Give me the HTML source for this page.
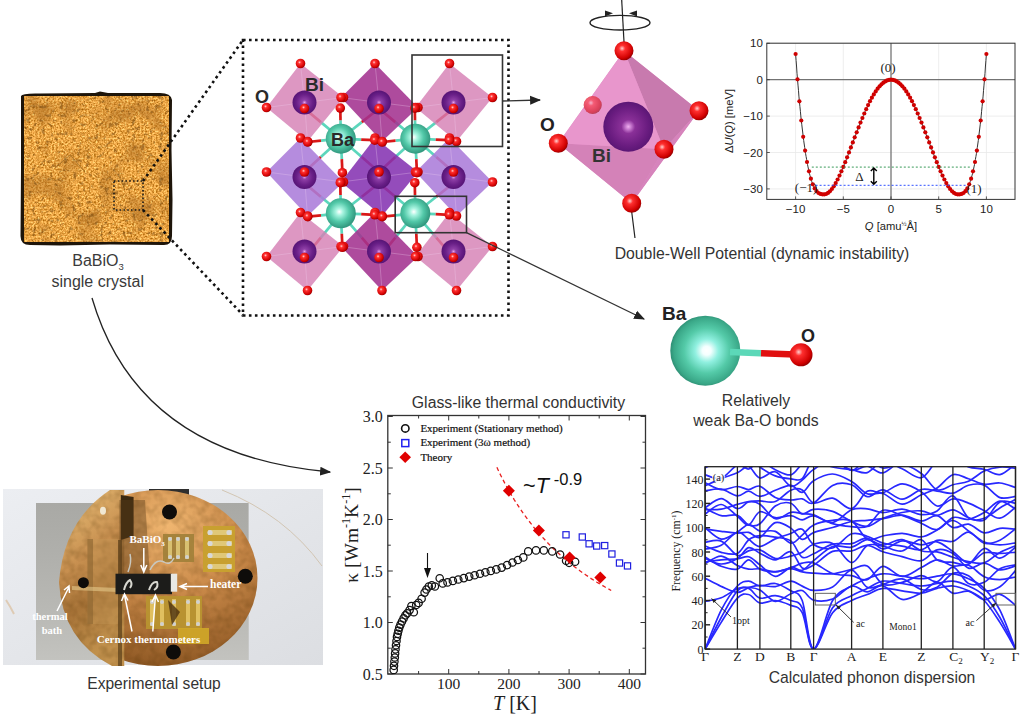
<!DOCTYPE html>
<html><head><meta charset="utf-8"><title>BaBiO3</title>
<style>html,body{margin:0;padding:0;background:#fff;} body{width:1024px;height:720px;overflow:hidden;} svg{display:block;}</style>
</head><body>
<svg width="1024" height="720" viewBox="0 0 1024 720">
<rect width="1024" height="720" fill="#fff"/>

<defs>
 <radialGradient id="gO" cx="0.4" cy="0.38" r="0.65">
  <stop offset="0" stop-color="#ffd0d0"/><stop offset="0.25" stop-color="#ff3030"/><stop offset="0.8" stop-color="#d00000"/><stop offset="1" stop-color="#900000"/>
 </radialGradient>
 <radialGradient id="gBa" cx="0.45" cy="0.45" r="0.6">
  <stop offset="0" stop-color="#ffffff"/><stop offset="0.2" stop-color="#a8f4e0"/><stop offset="0.55" stop-color="#52c8a8"/><stop offset="1" stop-color="#2a8c74"/>
 </radialGradient>
 <radialGradient id="gBa2" cx="0.52" cy="0.5" r="0.52">
  <stop offset="0" stop-color="#ffffff"/><stop offset="0.12" stop-color="#f4ffff"/><stop offset="0.32" stop-color="#90f0e0"/><stop offset="0.62" stop-color="#54caa8"/><stop offset="0.9" stop-color="#3aa888"/><stop offset="1" stop-color="#2e8e74"/>
 </radialGradient>
 <radialGradient id="gBi" cx="0.5" cy="0.5" r="0.55">
  <stop offset="0" stop-color="#e8a0e8"/><stop offset="0.18" stop-color="#9040a8"/><stop offset="0.6" stop-color="#6a2088"/><stop offset="1" stop-color="#501070"/>
 </radialGradient>
 <radialGradient id="gBi2" cx="0.5" cy="0.5" r="0.55">
  <stop offset="0" stop-color="#f0b0f0"/><stop offset="0.12" stop-color="#c070c8"/><stop offset="0.25" stop-color="#8a3098"/><stop offset="0.7" stop-color="#6a1c80"/><stop offset="1" stop-color="#541470"/>
 </radialGradient>
 <filter id="fCrys" x="0" y="0" width="1" height="1" color-interpolation-filters="sRGB">
  <feTurbulence type="fractalNoise" baseFrequency="0.22" numOctaves="3" seed="4" result="n"/>
  <feColorMatrix in="n" type="matrix" values="0 0 0 0 0.45  0 0 0 0 0.28  0 0 0 0 0.07  -6 0 0 0 2.5" result="d"/>
  <feComposite in="d" in2="SourceGraphic" operator="in"/>
 </filter>
 <filter id="fGrain" x="0" y="0" width="1" height="1" color-interpolation-filters="sRGB">
  <feTurbulence type="fractalNoise" baseFrequency="0.55" numOctaves="2" seed="5" result="n"/>
  <feColorMatrix in="n" type="matrix" values="1 0 0 0 0  1 0 0 0 0  1 0 0 0 0  0 0 0 0 1" result="g"/>
  <feComposite in="SourceGraphic" in2="g" operator="arithmetic" k1="0" k2="1" k3="0.75" k4="-0.375"/>
 </filter>
 <filter id="fCrys2" x="0" y="0" width="1" height="1" color-interpolation-filters="sRGB">
  <feTurbulence type="fractalNoise" baseFrequency="0.04" numOctaves="3" seed="9" result="n"/>
  <feColorMatrix in="n" type="matrix" values="0 0 0 0 0.7  0 0 0 0 0.45  0 0 0 0 0.15  -3 0 0 0 1.6" result="d"/>
  <feComposite in="d" in2="SourceGraphic" operator="in"/>
 </filter>
 <filter id="fPhoto" x="0" y="0" width="1" height="1" color-interpolation-filters="sRGB">
  <feTurbulence type="fractalNoise" baseFrequency="0.12" numOctaves="2" seed="7" result="n"/>
  <feColorMatrix in="n" type="matrix" values="0 0 0 0 0.3  0 0 0 0 0.18  0 0 0 0 0.02  -1.5 0 0 0 0.95" result="d"/>
  <feComposite in="d" in2="SourceGraphic" operator="in"/>
 </filter>
 <radialGradient id="gDisk" cx="0.55" cy="0.2" r="0.9">
  <stop offset="0" stop-color="#f0b670"/><stop offset="0.45" stop-color="#c88848"/><stop offset="1" stop-color="#824e1c"/>
 </radialGradient>
 <linearGradient id="gFlap" x1="0" y1="0" x2="0.3" y2="1">
  <stop offset="0" stop-color="#ecc47c"/><stop offset="0.45" stop-color="#c89050"/><stop offset="0.7" stop-color="#a87438"/><stop offset="1" stop-color="#c0904c"/>
 </linearGradient>
 <linearGradient id="gPlate" x1="0" y1="0" x2="0" y2="1">
  <stop offset="0" stop-color="#a0a09c" stop-opacity="0.5"/><stop offset="1" stop-color="#cacac6" stop-opacity="0.7"/>
 </linearGradient>
 <linearGradient id="gBg" x1="0" y1="0" x2="1" y2="1">
  <stop offset="0" stop-color="#eceef2"/><stop offset="1" stop-color="#dcdee2"/>
 </linearGradient>
 <marker id="ah" viewBox="0 0 10 10" refX="9" refY="5" markerWidth="11" markerHeight="11" markerUnits="userSpaceOnUse" orient="auto">
  <path d="M0,1 L10,5 L0,9 Z" fill="#222"/>
 </marker>
</defs>

<path d="M21,96 Q22,93 40,93.5 L95,93 L100,91.5 L108,93 L160,93 Q171,93 172,100 L171.5,150 L172.5,200 L172,236 Q172,245 164,245 L110,244.5 L60,245.5 L30,245 Q20.5,245 20.5,236 L21,170 Z" fill="#1e150a"/>
<rect x="24" y="96" width="145" height="146" fill="#eca646" filter="url(#fGrain)"/>
<rect x="24" y="96" width="145" height="146" fill="#e6ac4e" filter="url(#fCrys2)" opacity="0.6"/>
<rect x="24" y="96" width="145" height="146" fill="#e6ac4e" filter="url(#fCrys)" opacity="0.5"/>
<path d="M55,168 L70,155 L85,172 M118,174 L125,190" stroke="#6a4a1a" stroke-width="0.6" fill="none" opacity="0.7"/>
<rect x="114" y="181" width="29" height="29" fill="none" stroke="#1a1a1a" stroke-width="1.6" stroke-dasharray="1.6 2.2"/>
<path d="M143,181 L243,40" stroke="#111" stroke-width="2.6" stroke-dasharray="2.6 3.4" fill="none"/>
<path d="M143,210 L243,315" stroke="#111" stroke-width="2.6" stroke-dasharray="2.6 3.4" fill="none"/>
<rect x="243" y="40" width="265.5" height="275.5" stroke="#111" stroke-width="2.6" stroke-dasharray="2.6 3.4" fill="none"/>
<text x="98" y="265.8" font-family='"Liberation Sans", sans-serif' font-size="16" fill="#3a3a3a" text-anchor="middle">BaBiO<tspan font-size="9.5" dy="4">3</tspan></text>
<text x="97.7" y="286.6" font-family='"Liberation Sans", sans-serif' font-size="16" fill="#3a3a3a" text-anchor="middle">single crystal</text>
<path d="M92,298 Q138,455 330,472" stroke="#222" stroke-width="1.3" fill="none" marker-end="url(#ah)"/>
<line x1="340.8" y1="138.7" x2="320.8" y2="122.1" stroke="#5cd6bc" stroke-width="2.7"/>
<line x1="320.8" y1="122.1" x2="304.5" y2="108.5" stroke="#d81818" stroke-width="2.7"/>
<line x1="340.8" y1="138.7" x2="361.8" y2="122.1" stroke="#5cd6bc" stroke-width="2.7"/>
<line x1="361.8" y1="122.1" x2="379.0" y2="108.5" stroke="#d81818" stroke-width="2.7"/>
<line x1="340.8" y1="138.7" x2="320.8" y2="157.0" stroke="#5cd6bc" stroke-width="2.7"/>
<line x1="320.8" y1="157.0" x2="304.5" y2="172.0" stroke="#d81818" stroke-width="2.7"/>
<line x1="340.8" y1="138.7" x2="361.8" y2="157.0" stroke="#5cd6bc" stroke-width="2.7"/>
<line x1="361.8" y1="157.0" x2="379.0" y2="172.0" stroke="#d81818" stroke-width="2.7"/>
<line x1="415.3" y1="138.7" x2="395.3" y2="122.1" stroke="#5cd6bc" stroke-width="2.7"/>
<line x1="395.3" y1="122.1" x2="379.0" y2="108.5" stroke="#d81818" stroke-width="2.7"/>
<line x1="415.3" y1="138.7" x2="436.3" y2="122.1" stroke="#5cd6bc" stroke-width="2.7"/>
<line x1="436.3" y1="122.1" x2="453.5" y2="108.5" stroke="#d81818" stroke-width="2.7"/>
<line x1="415.3" y1="138.7" x2="395.3" y2="157.0" stroke="#5cd6bc" stroke-width="2.7"/>
<line x1="395.3" y1="157.0" x2="379.0" y2="172.0" stroke="#d81818" stroke-width="2.7"/>
<line x1="415.3" y1="138.7" x2="436.3" y2="157.0" stroke="#5cd6bc" stroke-width="2.7"/>
<line x1="436.3" y1="157.0" x2="453.5" y2="172.0" stroke="#d81818" stroke-width="2.7"/>
<line x1="340.8" y1="213.3" x2="320.8" y2="196.7" stroke="#5cd6bc" stroke-width="2.7"/>
<line x1="320.8" y1="196.7" x2="304.5" y2="183.1" stroke="#d81818" stroke-width="2.7"/>
<line x1="340.8" y1="213.3" x2="361.8" y2="196.7" stroke="#5cd6bc" stroke-width="2.7"/>
<line x1="361.8" y1="196.7" x2="379.0" y2="183.1" stroke="#d81818" stroke-width="2.7"/>
<line x1="340.8" y1="213.3" x2="320.8" y2="237.7" stroke="#5cd6bc" stroke-width="2.7"/>
<line x1="320.8" y1="237.7" x2="304.5" y2="257.6" stroke="#d81818" stroke-width="2.7"/>
<line x1="340.8" y1="213.3" x2="361.8" y2="237.7" stroke="#5cd6bc" stroke-width="2.7"/>
<line x1="361.8" y1="237.7" x2="379.0" y2="257.6" stroke="#d81818" stroke-width="2.7"/>
<line x1="415.3" y1="213.3" x2="395.3" y2="196.7" stroke="#5cd6bc" stroke-width="2.7"/>
<line x1="395.3" y1="196.7" x2="379.0" y2="183.1" stroke="#d81818" stroke-width="2.7"/>
<line x1="415.3" y1="213.3" x2="436.3" y2="196.7" stroke="#5cd6bc" stroke-width="2.7"/>
<line x1="436.3" y1="196.7" x2="453.5" y2="183.1" stroke="#d81818" stroke-width="2.7"/>
<line x1="415.3" y1="213.3" x2="395.3" y2="237.7" stroke="#5cd6bc" stroke-width="2.7"/>
<line x1="395.3" y1="237.7" x2="379.0" y2="257.6" stroke="#d81818" stroke-width="2.7"/>
<line x1="415.3" y1="213.3" x2="436.3" y2="237.7" stroke="#5cd6bc" stroke-width="2.7"/>
<line x1="436.3" y1="237.7" x2="453.5" y2="257.6" stroke="#d81818" stroke-width="2.7"/>
<path d="M300.5,63.5 L343.5,97.5 L307.5,141.5 L266.5,107.5 Z" fill="#d580b4" opacity="0.82"/>
<line x1="304.5" y1="102.5" x2="300.5" y2="63.5" stroke="#f0d0f0" stroke-width="0.6" opacity="0.5"/>
<line x1="304.5" y1="102.5" x2="343.5" y2="97.5" stroke="#f0d0f0" stroke-width="0.6" opacity="0.5"/>
<line x1="304.5" y1="102.5" x2="307.5" y2="141.5" stroke="#f0d0f0" stroke-width="0.6" opacity="0.5"/>
<line x1="304.5" y1="102.5" x2="266.5" y2="107.5" stroke="#f0d0f0" stroke-width="0.6" opacity="0.5"/>
<path d="M375.0,63.5 L418.0,107.5 L382.0,141.5 L341.0,97.5 Z" fill="#a33290" opacity="0.88"/>
<line x1="379" y1="102.5" x2="375.0" y2="63.5" stroke="#f0d0f0" stroke-width="0.6" opacity="0.5"/>
<line x1="379" y1="102.5" x2="418.0" y2="107.5" stroke="#f0d0f0" stroke-width="0.6" opacity="0.5"/>
<line x1="379" y1="102.5" x2="382.0" y2="141.5" stroke="#f0d0f0" stroke-width="0.6" opacity="0.5"/>
<line x1="379" y1="102.5" x2="341.0" y2="97.5" stroke="#f0d0f0" stroke-width="0.6" opacity="0.5"/>
<path d="M449.5,63.5 L492.5,97.5 L456.5,141.5 L415.5,107.5 Z" fill="#d580b4" opacity="0.82"/>
<line x1="453.5" y1="102.5" x2="449.5" y2="63.5" stroke="#f0d0f0" stroke-width="0.6" opacity="0.5"/>
<line x1="453.5" y1="102.5" x2="492.5" y2="97.5" stroke="#f0d0f0" stroke-width="0.6" opacity="0.5"/>
<line x1="453.5" y1="102.5" x2="456.5" y2="141.5" stroke="#f0d0f0" stroke-width="0.6" opacity="0.5"/>
<line x1="453.5" y1="102.5" x2="415.5" y2="107.5" stroke="#f0d0f0" stroke-width="0.6" opacity="0.5"/>
<path d="M300.5,138.0 L343.5,182.0 L307.5,216.0 L266.5,172.0 Z" fill="#ab7cd9" opacity="0.88"/>
<line x1="304.5" y1="177" x2="300.5" y2="138.0" stroke="#f0d0f0" stroke-width="0.6" opacity="0.5"/>
<line x1="304.5" y1="177" x2="343.5" y2="182.0" stroke="#f0d0f0" stroke-width="0.6" opacity="0.5"/>
<line x1="304.5" y1="177" x2="307.5" y2="216.0" stroke="#f0d0f0" stroke-width="0.6" opacity="0.5"/>
<line x1="304.5" y1="177" x2="266.5" y2="172.0" stroke="#f0d0f0" stroke-width="0.6" opacity="0.5"/>
<path d="M375.0,138.0 L418.0,172.0 L382.0,216.0 L341.0,182.0 Z" fill="#8533b2" opacity="0.88"/>
<line x1="379" y1="177" x2="375.0" y2="138.0" stroke="#f0d0f0" stroke-width="0.6" opacity="0.5"/>
<line x1="379" y1="177" x2="418.0" y2="172.0" stroke="#f0d0f0" stroke-width="0.6" opacity="0.5"/>
<line x1="379" y1="177" x2="382.0" y2="216.0" stroke="#f0d0f0" stroke-width="0.6" opacity="0.5"/>
<line x1="379" y1="177" x2="341.0" y2="182.0" stroke="#f0d0f0" stroke-width="0.6" opacity="0.5"/>
<path d="M449.5,138.0 L492.5,182.0 L456.5,216.0 L415.5,172.0 Z" fill="#ab7cd9" opacity="0.88"/>
<line x1="453.5" y1="177" x2="449.5" y2="138.0" stroke="#f0d0f0" stroke-width="0.6" opacity="0.5"/>
<line x1="453.5" y1="177" x2="492.5" y2="182.0" stroke="#f0d0f0" stroke-width="0.6" opacity="0.5"/>
<line x1="453.5" y1="177" x2="456.5" y2="216.0" stroke="#f0d0f0" stroke-width="0.6" opacity="0.5"/>
<line x1="453.5" y1="177" x2="415.5" y2="172.0" stroke="#f0d0f0" stroke-width="0.6" opacity="0.5"/>
<path d="M300.5,212.5 L343.5,246.5 L307.5,290.5 L266.5,256.5 Z" fill="#d580b4" opacity="0.82"/>
<line x1="304.5" y1="251.5" x2="300.5" y2="212.5" stroke="#f0d0f0" stroke-width="0.6" opacity="0.5"/>
<line x1="304.5" y1="251.5" x2="343.5" y2="246.5" stroke="#f0d0f0" stroke-width="0.6" opacity="0.5"/>
<line x1="304.5" y1="251.5" x2="307.5" y2="290.5" stroke="#f0d0f0" stroke-width="0.6" opacity="0.5"/>
<line x1="304.5" y1="251.5" x2="266.5" y2="256.5" stroke="#f0d0f0" stroke-width="0.6" opacity="0.5"/>
<path d="M375.0,212.5 L418.0,256.5 L382.0,290.5 L341.0,246.5 Z" fill="#a33290" opacity="0.88"/>
<line x1="379" y1="251.5" x2="375.0" y2="212.5" stroke="#f0d0f0" stroke-width="0.6" opacity="0.5"/>
<line x1="379" y1="251.5" x2="418.0" y2="256.5" stroke="#f0d0f0" stroke-width="0.6" opacity="0.5"/>
<line x1="379" y1="251.5" x2="382.0" y2="290.5" stroke="#f0d0f0" stroke-width="0.6" opacity="0.5"/>
<line x1="379" y1="251.5" x2="341.0" y2="246.5" stroke="#f0d0f0" stroke-width="0.6" opacity="0.5"/>
<path d="M449.5,212.5 L492.5,246.5 L456.5,290.5 L415.5,256.5 Z" fill="#d580b4" opacity="0.82"/>
<line x1="453.5" y1="251.5" x2="449.5" y2="212.5" stroke="#f0d0f0" stroke-width="0.6" opacity="0.5"/>
<line x1="453.5" y1="251.5" x2="492.5" y2="246.5" stroke="#f0d0f0" stroke-width="0.6" opacity="0.5"/>
<line x1="453.5" y1="251.5" x2="456.5" y2="290.5" stroke="#f0d0f0" stroke-width="0.6" opacity="0.5"/>
<line x1="453.5" y1="251.5" x2="415.5" y2="256.5" stroke="#f0d0f0" stroke-width="0.6" opacity="0.5"/>
<circle cx="304.5" cy="102.5" r="12" fill="url(#gBi)"/>
<circle cx="379" cy="102.5" r="12" fill="url(#gBi)"/>
<circle cx="453.5" cy="102.5" r="12" fill="url(#gBi)"/>
<circle cx="304.5" cy="177" r="12" fill="url(#gBi)"/>
<circle cx="379" cy="177" r="12" fill="url(#gBi)"/>
<circle cx="453.5" cy="177" r="12" fill="url(#gBi)"/>
<circle cx="304.5" cy="251.5" r="12" fill="url(#gBi)"/>
<circle cx="379" cy="251.5" r="12" fill="url(#gBi)"/>
<circle cx="453.5" cy="251.5" r="12" fill="url(#gBi)"/>
<line x1="340.8" y1="138.7" x2="340.5" y2="120.3" stroke="#5cd6bc" stroke-width="2.7"/>
<line x1="340.5" y1="120.3" x2="340.3" y2="108.1" stroke="#d81818" stroke-width="2.7"/>
<line x1="340.8" y1="138.7" x2="341.8" y2="159.1" stroke="#5cd6bc" stroke-width="2.7"/>
<line x1="341.8" y1="159.1" x2="342.4" y2="172.7" stroke="#d81818" stroke-width="2.7"/>
<line x1="340.8" y1="138.7" x2="321.0" y2="140.7" stroke="#5cd6bc" stroke-width="2.7"/>
<line x1="321.0" y1="140.7" x2="307.8" y2="142.0" stroke="#d81818" stroke-width="2.7"/>
<line x1="340.8" y1="138.7" x2="361.2" y2="139.6" stroke="#5cd6bc" stroke-width="2.7"/>
<line x1="361.2" y1="139.6" x2="374.8" y2="140.2" stroke="#d81818" stroke-width="2.7"/>
<line x1="415.3" y1="138.7" x2="415.0" y2="120.3" stroke="#5cd6bc" stroke-width="2.7"/>
<line x1="415.0" y1="120.3" x2="414.8" y2="108.1" stroke="#d81818" stroke-width="2.7"/>
<line x1="415.3" y1="138.7" x2="416.3" y2="159.1" stroke="#5cd6bc" stroke-width="2.7"/>
<line x1="416.3" y1="159.1" x2="416.9" y2="172.7" stroke="#d81818" stroke-width="2.7"/>
<line x1="415.3" y1="138.7" x2="395.5" y2="140.7" stroke="#5cd6bc" stroke-width="2.7"/>
<line x1="395.5" y1="140.7" x2="382.3" y2="142.0" stroke="#d81818" stroke-width="2.7"/>
<line x1="415.3" y1="138.7" x2="435.7" y2="139.6" stroke="#5cd6bc" stroke-width="2.7"/>
<line x1="435.7" y1="139.6" x2="449.3" y2="140.2" stroke="#d81818" stroke-width="2.7"/>
<line x1="340.8" y1="213.3" x2="340.5" y2="194.9" stroke="#5cd6bc" stroke-width="2.7"/>
<line x1="340.5" y1="194.9" x2="340.3" y2="182.7" stroke="#d81818" stroke-width="2.7"/>
<line x1="340.8" y1="213.3" x2="341.8" y2="233.7" stroke="#5cd6bc" stroke-width="2.7"/>
<line x1="341.8" y1="233.7" x2="342.4" y2="247.3" stroke="#d81818" stroke-width="2.7"/>
<line x1="340.8" y1="213.3" x2="321.0" y2="215.3" stroke="#5cd6bc" stroke-width="2.7"/>
<line x1="321.0" y1="215.3" x2="307.8" y2="216.6" stroke="#d81818" stroke-width="2.7"/>
<line x1="340.8" y1="213.3" x2="361.2" y2="214.2" stroke="#5cd6bc" stroke-width="2.7"/>
<line x1="361.2" y1="214.2" x2="374.8" y2="214.8" stroke="#d81818" stroke-width="2.7"/>
<line x1="415.3" y1="213.3" x2="415.0" y2="194.9" stroke="#5cd6bc" stroke-width="2.7"/>
<line x1="415.0" y1="194.9" x2="414.8" y2="182.7" stroke="#d81818" stroke-width="2.7"/>
<line x1="415.3" y1="213.3" x2="416.3" y2="233.7" stroke="#5cd6bc" stroke-width="2.7"/>
<line x1="416.3" y1="233.7" x2="416.9" y2="247.3" stroke="#d81818" stroke-width="2.7"/>
<line x1="415.3" y1="213.3" x2="395.5" y2="215.3" stroke="#5cd6bc" stroke-width="2.7"/>
<line x1="395.5" y1="215.3" x2="382.3" y2="216.6" stroke="#d81818" stroke-width="2.7"/>
<line x1="415.3" y1="213.3" x2="435.7" y2="214.2" stroke="#5cd6bc" stroke-width="2.7"/>
<line x1="435.7" y1="214.2" x2="449.3" y2="214.8" stroke="#d81818" stroke-width="2.7"/>
<circle cx="340.8" cy="138.7" r="15" fill="url(#gBa)"/>
<circle cx="415.3" cy="138.7" r="15" fill="url(#gBa)"/>
<circle cx="340.8" cy="213.3" r="15" fill="url(#gBa)"/>
<circle cx="415.3" cy="213.3" r="15" fill="url(#gBa)"/>
<circle cx="300.5" cy="63.5" r="4.8" fill="url(#gO)"/>
<circle cx="343.5" cy="97.5" r="4.8" fill="url(#gO)"/>
<circle cx="307.5" cy="141.5" r="4.8" fill="url(#gO)"/>
<circle cx="266.5" cy="107.5" r="4.8" fill="url(#gO)"/>
<circle cx="304.5" cy="108.5" r="4.8" fill="url(#gO)"/>
<circle cx="375.0" cy="63.5" r="4.8" fill="url(#gO)"/>
<circle cx="418.0" cy="107.5" r="4.8" fill="url(#gO)"/>
<circle cx="382.0" cy="141.5" r="4.8" fill="url(#gO)"/>
<circle cx="341.0" cy="97.5" r="4.8" fill="url(#gO)"/>
<circle cx="379.0" cy="108.5" r="4.8" fill="url(#gO)"/>
<circle cx="449.5" cy="63.5" r="4.8" fill="url(#gO)"/>
<circle cx="492.5" cy="97.5" r="4.8" fill="url(#gO)"/>
<circle cx="456.5" cy="141.5" r="4.8" fill="url(#gO)"/>
<circle cx="415.5" cy="107.5" r="4.8" fill="url(#gO)"/>
<circle cx="453.5" cy="108.5" r="4.8" fill="url(#gO)"/>
<circle cx="300.5" cy="138.0" r="4.8" fill="url(#gO)"/>
<circle cx="343.5" cy="182.0" r="4.8" fill="url(#gO)"/>
<circle cx="307.5" cy="216.0" r="4.8" fill="url(#gO)"/>
<circle cx="266.5" cy="172.0" r="4.8" fill="url(#gO)"/>
<circle cx="304.5" cy="172.0" r="4.8" fill="url(#gO)"/>
<circle cx="375.0" cy="138.0" r="4.8" fill="url(#gO)"/>
<circle cx="418.0" cy="172.0" r="4.8" fill="url(#gO)"/>
<circle cx="382.0" cy="216.0" r="4.8" fill="url(#gO)"/>
<circle cx="341.0" cy="182.0" r="4.8" fill="url(#gO)"/>
<circle cx="379.0" cy="172.0" r="4.8" fill="url(#gO)"/>
<circle cx="449.5" cy="138.0" r="4.8" fill="url(#gO)"/>
<circle cx="492.5" cy="182.0" r="4.8" fill="url(#gO)"/>
<circle cx="456.5" cy="216.0" r="4.8" fill="url(#gO)"/>
<circle cx="415.5" cy="172.0" r="4.8" fill="url(#gO)"/>
<circle cx="453.5" cy="172.0" r="4.8" fill="url(#gO)"/>
<circle cx="300.5" cy="212.5" r="4.8" fill="url(#gO)"/>
<circle cx="343.5" cy="246.5" r="4.8" fill="url(#gO)"/>
<circle cx="307.5" cy="290.5" r="4.8" fill="url(#gO)"/>
<circle cx="266.5" cy="256.5" r="4.8" fill="url(#gO)"/>
<circle cx="304.5" cy="257.5" r="4.8" fill="url(#gO)"/>
<circle cx="375.0" cy="212.5" r="4.8" fill="url(#gO)"/>
<circle cx="418.0" cy="256.5" r="4.8" fill="url(#gO)"/>
<circle cx="382.0" cy="290.5" r="4.8" fill="url(#gO)"/>
<circle cx="341.0" cy="246.5" r="4.8" fill="url(#gO)"/>
<circle cx="379.0" cy="257.5" r="4.8" fill="url(#gO)"/>
<circle cx="449.5" cy="212.5" r="4.8" fill="url(#gO)"/>
<circle cx="492.5" cy="246.5" r="4.8" fill="url(#gO)"/>
<circle cx="456.5" cy="290.5" r="4.8" fill="url(#gO)"/>
<circle cx="415.5" cy="256.5" r="4.8" fill="url(#gO)"/>
<circle cx="453.5" cy="257.5" r="4.8" fill="url(#gO)"/>
<circle cx="340.3" cy="108.1" r="4.8" fill="url(#gO)"/>
<circle cx="342.4" cy="172.7" r="4.8" fill="url(#gO)"/>
<circle cx="307.8" cy="142.0" r="4.8" fill="url(#gO)"/>
<circle cx="374.8" cy="140.2" r="4.8" fill="url(#gO)"/>
<circle cx="414.8" cy="108.1" r="4.8" fill="url(#gO)"/>
<circle cx="416.9" cy="172.7" r="4.8" fill="url(#gO)"/>
<circle cx="382.3" cy="142.0" r="4.8" fill="url(#gO)"/>
<circle cx="449.3" cy="140.2" r="4.8" fill="url(#gO)"/>
<circle cx="340.3" cy="182.7" r="4.8" fill="url(#gO)"/>
<circle cx="342.4" cy="247.3" r="4.8" fill="url(#gO)"/>
<circle cx="307.8" cy="216.6" r="4.8" fill="url(#gO)"/>
<circle cx="374.8" cy="214.8" r="4.8" fill="url(#gO)"/>
<circle cx="414.8" cy="182.7" r="4.8" fill="url(#gO)"/>
<circle cx="416.9" cy="247.3" r="4.8" fill="url(#gO)"/>
<circle cx="382.3" cy="216.6" r="4.8" fill="url(#gO)"/>
<circle cx="449.3" cy="214.8" r="4.8" fill="url(#gO)"/>
<text x="255" y="103" font-family='"Liberation Sans", sans-serif' font-size="18" font-weight="bold" fill="#2a2a2a">O</text>
<text x="305" y="91" font-family='"Liberation Sans", sans-serif' font-size="19" font-weight="bold" fill="#2a2a2a">Bi</text>
<text x="331" y="146" font-family='"Liberation Sans", sans-serif' font-size="18" font-weight="bold" fill="#2a2a2a">Ba</text>
<rect x="412" y="55" width="90.5" height="91.5" fill="none" stroke="#333" stroke-width="1.6"/>
<rect x="395.2" y="196.3" width="71.3" height="36.4" fill="none" stroke="#333" stroke-width="1.6"/>
<path d="M502.5,101 L540,100" stroke="#333" stroke-width="1.3" fill="none" marker-end="url(#ah)"/>
<path d="M466.5,232.7 L644,319" stroke="#333" stroke-width="1.3" fill="none" marker-end="url(#ah)"/>
<line x1="621.7" y1="0" x2="624" y2="42" stroke="#222" stroke-width="1.2"/>
<line x1="631.7" y1="212" x2="635" y2="238" stroke="#222" stroke-width="1.2"/>
<ellipse cx="620" cy="22.7" rx="30" ry="7.3" fill="none" stroke="#222" stroke-width="1.4"/>
<path d="M605,16.5 L613,13.2 L605,10.5 Z" fill="#222"/>
<path d="M637,16.5 L629,13.2 L637,10.5 Z" fill="#222"/>
<path d="M624,50.7 L699,110.7 L631.7,203.3 L558.3,143.3 Z" fill="#e08cc4"/>
<path d="M624,50.7 L699,110.7 L664,149.3 Z" fill="#c87aae"/>
<path d="M558.3,143.3 L631.7,203.3 L664,149.3 Z" fill="#d482b8"/>
<path d="M624,50.7 L558.3,143.3 L664,149.3 Z" fill="#e896cc"/>
<path d="M699,110.7 L631.7,203.3 L664,149.3 Z" fill="#d684bc"/>
<circle cx="592.7" cy="105" r="9" fill="url(#gO)" opacity="0.85"/>
<circle cx="592.7" cy="105" r="9" fill="#e890c8" opacity="0.35"/>
<circle cx="628.3" cy="126.7" r="25" fill="url(#gBi2)"/>
<circle cx="624" cy="50.7" r="9.5" fill="url(#gO)"/>
<circle cx="699" cy="110.7" r="9.5" fill="url(#gO)"/>
<circle cx="558.3" cy="143.3" r="9.5" fill="url(#gO)"/>
<circle cx="631.7" cy="203.3" r="9.5" fill="url(#gO)"/>
<circle cx="664" cy="149.3" r="9.5" fill="url(#gO)"/>
<text x="540" y="131" font-family='"Liberation Sans", sans-serif' font-size="19" font-weight="bold" fill="#222">O</text>
<text x="592" y="162" font-family='"Liberation Sans", sans-serif' font-size="19" font-weight="bold" fill="#333">Bi</text>
<text x="762" y="258.7" font-family='"Liberation Sans", sans-serif' font-size="15.8" fill="#333" text-anchor="middle">Double-Well Potential (dynamic instability)</text>
<line x1="795.6" y1="43.2" x2="795.6" y2="199.4" stroke="#e8e8e8" stroke-width="0.8"/>
<line x1="843.3" y1="43.2" x2="843.3" y2="199.4" stroke="#e8e8e8" stroke-width="0.8"/>
<line x1="891.0" y1="43.2" x2="891.0" y2="199.4" stroke="#e8e8e8" stroke-width="0.8"/>
<line x1="938.7" y1="43.2" x2="938.7" y2="199.4" stroke="#e8e8e8" stroke-width="0.8"/>
<line x1="986.4" y1="43.2" x2="986.4" y2="199.4" stroke="#e8e8e8" stroke-width="0.8"/>
<line x1="766.8" y1="43.3" x2="1015" y2="43.3" stroke="#e8e8e8" stroke-width="0.8"/>
<line x1="766.8" y1="79.7" x2="1015" y2="79.7" stroke="#e8e8e8" stroke-width="0.8"/>
<line x1="766.8" y1="116.1" x2="1015" y2="116.1" stroke="#e8e8e8" stroke-width="0.8"/>
<line x1="766.8" y1="152.5" x2="1015" y2="152.5" stroke="#e8e8e8" stroke-width="0.8"/>
<line x1="766.8" y1="188.9" x2="1015" y2="188.9" stroke="#e8e8e8" stroke-width="0.8"/>
<line x1="891.0" y1="43.2" x2="891.0" y2="199.4" stroke="#555" stroke-width="1"/>
<line x1="766.8" y1="79.7" x2="1015" y2="79.7" stroke="#555" stroke-width="1"/>
<rect x="766.8" y="43.2" width="248.20000000000005" height="156.2" fill="none" stroke="#333" stroke-width="1"/>
<line x1="795.6" y1="199.4" x2="795.6" y2="196.4" stroke="#333" stroke-width="0.8"/>
<text x="795.6" y="213.4" font-family='"Liberation Sans", sans-serif' font-size="11.5" fill="#222" text-anchor="middle">−10</text>
<line x1="843.3" y1="199.4" x2="843.3" y2="196.4" stroke="#333" stroke-width="0.8"/>
<text x="843.3" y="213.4" font-family='"Liberation Sans", sans-serif' font-size="11.5" fill="#222" text-anchor="middle">−5</text>
<line x1="891.0" y1="199.4" x2="891.0" y2="196.4" stroke="#333" stroke-width="0.8"/>
<text x="891.0" y="213.4" font-family='"Liberation Sans", sans-serif' font-size="11.5" fill="#222" text-anchor="middle">0</text>
<line x1="938.7" y1="199.4" x2="938.7" y2="196.4" stroke="#333" stroke-width="0.8"/>
<text x="938.7" y="213.4" font-family='"Liberation Sans", sans-serif' font-size="11.5" fill="#222" text-anchor="middle">5</text>
<line x1="986.4" y1="199.4" x2="986.4" y2="196.4" stroke="#333" stroke-width="0.8"/>
<text x="986.4" y="213.4" font-family='"Liberation Sans", sans-serif' font-size="11.5" fill="#222" text-anchor="middle">10</text>
<line x1="766.8" y1="43.3" x2="769.8" y2="43.3" stroke="#333" stroke-width="0.8"/>
<text x="762.8" y="47.3" font-family='"Liberation Sans", sans-serif' font-size="11.5" fill="#222" text-anchor="end">10</text>
<line x1="766.8" y1="79.7" x2="769.8" y2="79.7" stroke="#333" stroke-width="0.8"/>
<text x="762.8" y="83.7" font-family='"Liberation Sans", sans-serif' font-size="11.5" fill="#222" text-anchor="end">0</text>
<line x1="766.8" y1="116.1" x2="769.8" y2="116.1" stroke="#333" stroke-width="0.8"/>
<text x="762.8" y="120.1" font-family='"Liberation Sans", sans-serif' font-size="11.5" fill="#222" text-anchor="end">−10</text>
<line x1="766.8" y1="152.5" x2="769.8" y2="152.5" stroke="#333" stroke-width="0.8"/>
<text x="762.8" y="156.5" font-family='"Liberation Sans", sans-serif' font-size="11.5" fill="#222" text-anchor="end">−20</text>
<line x1="766.8" y1="188.9" x2="769.8" y2="188.9" stroke="#333" stroke-width="0.8"/>
<text x="762.8" y="192.9" font-family='"Liberation Sans", sans-serif' font-size="11.5" fill="#222" text-anchor="end">−30</text>
<path d="M795.6,54.0 L796.1,60.6 L796.6,67.0 L797.0,73.3 L797.5,79.3 L798.0,85.1 L798.5,90.7 L798.9,96.1 L799.4,101.3 L799.9,106.4 L800.4,111.3 L800.8,115.9 L801.3,120.5 L801.8,124.8 L802.3,129.0 L802.8,133.0 L803.2,136.8 L803.7,140.5 L804.2,144.0 L804.7,147.4 L805.1,150.6 L805.6,153.7 L806.1,156.6 L806.6,159.4 L807.0,162.0 L807.5,164.5 L808.0,166.9 L808.5,169.2 L809.0,171.3 L809.4,173.3 L809.9,175.2 L810.4,177.0 L810.9,178.7 L811.3,180.2 L811.8,181.7 L812.3,183.0 L812.8,184.3 L813.2,185.4 L813.7,186.5 L814.2,187.5 L814.7,188.4 L815.2,189.2 L815.6,190.0 L816.1,190.6 L816.6,191.2 L817.1,191.7 L817.5,192.2 L818.0,192.6 L818.5,193.0 L819.0,193.3 L819.5,193.5 L819.9,193.8 L820.4,193.9 L820.9,194.1 L821.4,194.2 L821.8,194.2 L822.3,194.3 L822.8,194.3 L823.3,194.4 L823.7,194.4 L824.2,194.4 L824.7,194.3 L825.2,194.3 L825.7,194.2 L826.1,194.0 L826.6,193.8 L827.1,193.6 L827.6,193.3 L828.0,192.9 L828.5,192.6 L829.0,192.2 L829.5,191.7 L829.9,191.3 L830.4,190.8 L830.9,190.2 L831.4,189.6 L831.9,189.0 L832.3,188.4 L832.8,187.7 L833.3,187.0 L833.8,186.3 L834.2,185.5 L834.7,184.7 L835.2,183.9 L835.7,183.1 L836.1,182.2 L836.6,181.3 L837.1,180.4 L837.6,179.5 L838.1,178.5 L838.5,177.6 L839.0,176.6 L839.5,175.6 L840.0,174.5 L840.4,173.5 L840.9,172.4 L841.4,171.3 L841.9,170.2 L842.3,169.1 L842.8,168.0 L843.3,166.9 L843.8,165.7 L844.3,164.5 L844.7,163.4 L845.2,162.2 L845.7,161.0 L846.2,159.8 L846.6,158.6 L847.1,157.3 L847.6,156.1 L848.1,154.9 L848.5,153.6 L849.0,152.4 L849.5,151.2 L850.0,149.9 L850.5,148.7 L850.9,147.4 L851.4,146.1 L851.9,144.9 L852.4,143.6 L852.8,142.4 L853.3,141.1 L853.8,139.8 L854.3,138.6 L854.7,137.3 L855.2,136.1 L855.7,134.8 L856.2,133.6 L856.7,132.3 L857.1,131.1 L857.6,129.9 L858.1,128.6 L858.6,127.4 L859.0,126.2 L859.5,125.0 L860.0,123.8 L860.5,122.6 L860.9,121.4 L861.4,120.3 L861.9,119.1 L862.4,118.0 L862.9,116.8 L863.3,115.7 L863.8,114.6 L864.3,113.5 L864.8,112.4 L865.2,111.3 L865.7,110.2 L866.2,109.2 L866.7,108.1 L867.1,107.1 L867.6,106.1 L868.1,105.1 L868.6,104.1 L869.1,103.1 L869.5,102.2 L870.0,101.2 L870.5,100.3 L871.0,99.4 L871.4,98.5 L871.9,97.7 L872.4,96.8 L872.9,96.0 L873.4,95.2 L873.8,94.4 L874.3,93.6 L874.8,92.8 L875.3,92.1 L875.7,91.4 L876.2,90.7 L876.7,90.0 L877.2,89.3 L877.6,88.7 L878.1,88.1 L878.6,87.5 L879.1,86.9 L879.6,86.3 L880.0,85.8 L880.5,85.3 L881.0,84.8 L881.5,84.3 L881.9,83.9 L882.4,83.5 L882.9,83.1 L883.4,82.7 L883.8,82.3 L884.3,82.0 L884.8,81.7 L885.3,81.4 L885.8,81.1 L886.2,80.9 L886.7,80.6 L887.2,80.4 L887.7,80.3 L888.1,80.1 L888.6,80.0 L889.1,79.9 L889.6,79.8 L890.0,79.7 L890.5,79.7 L891.0,79.7 L891.5,79.7 L892.0,79.7 L892.4,79.8 L892.9,79.9 L893.4,80.0 L893.9,80.1 L894.3,80.3 L894.8,80.4 L895.3,80.6 L895.8,80.9 L896.2,81.1 L896.7,81.4 L897.2,81.7 L897.7,82.0 L898.2,82.3 L898.6,82.7 L899.1,83.1 L899.6,83.5 L900.1,83.9 L900.5,84.3 L901.0,84.8 L901.5,85.3 L902.0,85.8 L902.4,86.3 L902.9,86.9 L903.4,87.5 L903.9,88.1 L904.4,88.7 L904.8,89.3 L905.3,90.0 L905.8,90.7 L906.3,91.4 L906.7,92.1 L907.2,92.8 L907.7,93.6 L908.2,94.4 L908.6,95.2 L909.1,96.0 L909.6,96.8 L910.1,97.7 L910.6,98.5 L911.0,99.4 L911.5,100.3 L912.0,101.2 L912.5,102.2 L912.9,103.1 L913.4,104.1 L913.9,105.1 L914.4,106.1 L914.9,107.1 L915.3,108.1 L915.8,109.2 L916.3,110.2 L916.8,111.3 L917.2,112.4 L917.7,113.5 L918.2,114.6 L918.7,115.7 L919.1,116.8 L919.6,118.0 L920.1,119.1 L920.6,120.3 L921.1,121.4 L921.5,122.6 L922.0,123.8 L922.5,125.0 L923.0,126.2 L923.4,127.4 L923.9,128.6 L924.4,129.9 L924.9,131.1 L925.3,132.3 L925.8,133.6 L926.3,134.8 L926.8,136.1 L927.3,137.3 L927.7,138.6 L928.2,139.8 L928.7,141.1 L929.2,142.4 L929.6,143.6 L930.1,144.9 L930.6,146.1 L931.1,147.4 L931.5,148.7 L932.0,149.9 L932.5,151.2 L933.0,152.4 L933.5,153.6 L933.9,154.9 L934.4,156.1 L934.9,157.3 L935.4,158.6 L935.8,159.8 L936.3,161.0 L936.8,162.2 L937.3,163.4 L937.7,164.5 L938.2,165.7 L938.7,166.9 L939.2,168.0 L939.7,169.1 L940.1,170.2 L940.6,171.3 L941.1,172.4 L941.6,173.5 L942.0,174.5 L942.5,175.6 L943.0,176.6 L943.5,177.6 L943.9,178.5 L944.4,179.5 L944.9,180.4 L945.4,181.3 L945.9,182.2 L946.3,183.1 L946.8,183.9 L947.3,184.7 L947.8,185.5 L948.2,186.3 L948.7,187.0 L949.2,187.7 L949.7,188.4 L950.1,189.0 L950.6,189.6 L951.1,190.2 L951.6,190.8 L952.1,191.3 L952.5,191.7 L953.0,192.2 L953.5,192.6 L954.0,192.9 L954.4,193.3 L954.9,193.6 L955.4,193.8 L955.9,194.0 L956.3,194.2 L956.8,194.3 L957.3,194.3 L957.8,194.4 L958.3,194.4 L958.7,194.4 L959.2,194.3 L959.7,194.3 L960.2,194.2 L960.6,194.2 L961.1,194.1 L961.6,193.9 L962.1,193.8 L962.5,193.5 L963.0,193.3 L963.5,193.0 L964.0,192.6 L964.5,192.2 L964.9,191.7 L965.4,191.2 L965.9,190.6 L966.4,190.0 L966.8,189.2 L967.3,188.4 L967.8,187.5 L968.3,186.5 L968.8,185.4 L969.2,184.3 L969.7,183.0 L970.2,181.7 L970.7,180.2 L971.1,178.7 L971.6,177.0 L972.1,175.2 L972.6,173.3 L973.0,171.3 L973.5,169.2 L974.0,166.9 L974.5,164.5 L975.0,162.0 L975.4,159.4 L975.9,156.6 L976.4,153.7 L976.9,150.6 L977.3,147.4 L977.8,144.0 L978.3,140.5 L978.8,136.8 L979.2,133.0 L979.7,129.0 L980.2,124.8 L980.7,120.5 L981.2,115.9 L981.6,111.3 L982.1,106.4 L982.6,101.3 L983.1,96.1 L983.5,90.7 L984.0,85.1 L984.5,79.3 L985.0,73.3 L985.4,67.0 L985.9,60.6 L986.4,54.0" stroke="#333" stroke-width="1" fill="none"/>
<circle cx="795.6" cy="54.0" r="2.1" fill="#d00000"/>
<circle cx="797.5" cy="79.3" r="2.1" fill="#d00000"/>
<circle cx="799.4" cy="101.3" r="2.1" fill="#d00000"/>
<circle cx="801.3" cy="120.5" r="2.1" fill="#d00000"/>
<circle cx="803.2" cy="136.8" r="2.1" fill="#d00000"/>
<circle cx="805.1" cy="150.6" r="2.1" fill="#d00000"/>
<circle cx="807.0" cy="162.0" r="2.1" fill="#d00000"/>
<circle cx="809.0" cy="171.3" r="2.1" fill="#d00000"/>
<circle cx="810.9" cy="178.7" r="2.1" fill="#d00000"/>
<circle cx="812.8" cy="184.3" r="2.1" fill="#d00000"/>
<circle cx="814.7" cy="188.4" r="2.1" fill="#d00000"/>
<circle cx="816.6" cy="191.2" r="2.1" fill="#d00000"/>
<circle cx="818.5" cy="193.0" r="2.1" fill="#d00000"/>
<circle cx="820.4" cy="193.9" r="2.1" fill="#d00000"/>
<circle cx="822.3" cy="194.3" r="2.1" fill="#d00000"/>
<circle cx="824.2" cy="194.4" r="2.1" fill="#d00000"/>
<circle cx="826.1" cy="194.0" r="2.1" fill="#d00000"/>
<circle cx="828.0" cy="192.9" r="2.1" fill="#d00000"/>
<circle cx="829.9" cy="191.3" r="2.1" fill="#d00000"/>
<circle cx="831.9" cy="189.0" r="2.1" fill="#d00000"/>
<circle cx="833.8" cy="186.3" r="2.1" fill="#d00000"/>
<circle cx="835.7" cy="183.1" r="2.1" fill="#d00000"/>
<circle cx="837.6" cy="179.5" r="2.1" fill="#d00000"/>
<circle cx="839.5" cy="175.6" r="2.1" fill="#d00000"/>
<circle cx="841.4" cy="171.3" r="2.1" fill="#d00000"/>
<circle cx="843.3" cy="166.9" r="2.1" fill="#d00000"/>
<circle cx="845.2" cy="162.2" r="2.1" fill="#d00000"/>
<circle cx="847.1" cy="157.3" r="2.1" fill="#d00000"/>
<circle cx="849.0" cy="152.4" r="2.1" fill="#d00000"/>
<circle cx="850.9" cy="147.4" r="2.1" fill="#d00000"/>
<circle cx="852.8" cy="142.4" r="2.1" fill="#d00000"/>
<circle cx="854.7" cy="137.3" r="2.1" fill="#d00000"/>
<circle cx="856.7" cy="132.3" r="2.1" fill="#d00000"/>
<circle cx="858.6" cy="127.4" r="2.1" fill="#d00000"/>
<circle cx="860.5" cy="122.6" r="2.1" fill="#d00000"/>
<circle cx="862.4" cy="118.0" r="2.1" fill="#d00000"/>
<circle cx="864.3" cy="113.5" r="2.1" fill="#d00000"/>
<circle cx="866.2" cy="109.2" r="2.1" fill="#d00000"/>
<circle cx="868.1" cy="105.1" r="2.1" fill="#d00000"/>
<circle cx="870.0" cy="101.2" r="2.1" fill="#d00000"/>
<circle cx="871.9" cy="97.7" r="2.1" fill="#d00000"/>
<circle cx="873.8" cy="94.4" r="2.1" fill="#d00000"/>
<circle cx="875.7" cy="91.4" r="2.1" fill="#d00000"/>
<circle cx="877.6" cy="88.7" r="2.1" fill="#d00000"/>
<circle cx="879.6" cy="86.3" r="2.1" fill="#d00000"/>
<circle cx="881.5" cy="84.3" r="2.1" fill="#d00000"/>
<circle cx="883.4" cy="82.7" r="2.1" fill="#d00000"/>
<circle cx="885.3" cy="81.4" r="2.1" fill="#d00000"/>
<circle cx="887.2" cy="80.4" r="2.1" fill="#d00000"/>
<circle cx="889.1" cy="79.9" r="2.1" fill="#d00000"/>
<circle cx="891.0" cy="79.7" r="2.1" fill="#d00000"/>
<circle cx="892.9" cy="79.9" r="2.1" fill="#d00000"/>
<circle cx="894.8" cy="80.4" r="2.1" fill="#d00000"/>
<circle cx="896.7" cy="81.4" r="2.1" fill="#d00000"/>
<circle cx="898.6" cy="82.7" r="2.1" fill="#d00000"/>
<circle cx="900.5" cy="84.3" r="2.1" fill="#d00000"/>
<circle cx="902.4" cy="86.3" r="2.1" fill="#d00000"/>
<circle cx="904.4" cy="88.7" r="2.1" fill="#d00000"/>
<circle cx="906.3" cy="91.4" r="2.1" fill="#d00000"/>
<circle cx="908.2" cy="94.4" r="2.1" fill="#d00000"/>
<circle cx="910.1" cy="97.7" r="2.1" fill="#d00000"/>
<circle cx="912.0" cy="101.2" r="2.1" fill="#d00000"/>
<circle cx="913.9" cy="105.1" r="2.1" fill="#d00000"/>
<circle cx="915.8" cy="109.2" r="2.1" fill="#d00000"/>
<circle cx="917.7" cy="113.5" r="2.1" fill="#d00000"/>
<circle cx="919.6" cy="118.0" r="2.1" fill="#d00000"/>
<circle cx="921.5" cy="122.6" r="2.1" fill="#d00000"/>
<circle cx="923.4" cy="127.4" r="2.1" fill="#d00000"/>
<circle cx="925.3" cy="132.3" r="2.1" fill="#d00000"/>
<circle cx="927.3" cy="137.3" r="2.1" fill="#d00000"/>
<circle cx="929.2" cy="142.4" r="2.1" fill="#d00000"/>
<circle cx="931.1" cy="147.4" r="2.1" fill="#d00000"/>
<circle cx="933.0" cy="152.4" r="2.1" fill="#d00000"/>
<circle cx="934.9" cy="157.3" r="2.1" fill="#d00000"/>
<circle cx="936.8" cy="162.2" r="2.1" fill="#d00000"/>
<circle cx="938.7" cy="166.9" r="2.1" fill="#d00000"/>
<circle cx="940.6" cy="171.3" r="2.1" fill="#d00000"/>
<circle cx="942.5" cy="175.6" r="2.1" fill="#d00000"/>
<circle cx="944.4" cy="179.5" r="2.1" fill="#d00000"/>
<circle cx="946.3" cy="183.1" r="2.1" fill="#d00000"/>
<circle cx="948.2" cy="186.3" r="2.1" fill="#d00000"/>
<circle cx="950.1" cy="189.0" r="2.1" fill="#d00000"/>
<circle cx="952.1" cy="191.3" r="2.1" fill="#d00000"/>
<circle cx="954.0" cy="192.9" r="2.1" fill="#d00000"/>
<circle cx="955.9" cy="194.0" r="2.1" fill="#d00000"/>
<circle cx="957.8" cy="194.4" r="2.1" fill="#d00000"/>
<circle cx="959.7" cy="194.3" r="2.1" fill="#d00000"/>
<circle cx="961.6" cy="193.9" r="2.1" fill="#d00000"/>
<circle cx="963.5" cy="193.0" r="2.1" fill="#d00000"/>
<circle cx="965.4" cy="191.2" r="2.1" fill="#d00000"/>
<circle cx="967.3" cy="188.4" r="2.1" fill="#d00000"/>
<circle cx="969.2" cy="184.3" r="2.1" fill="#d00000"/>
<circle cx="971.1" cy="178.7" r="2.1" fill="#d00000"/>
<circle cx="973.0" cy="171.3" r="2.1" fill="#d00000"/>
<circle cx="975.0" cy="162.0" r="2.1" fill="#d00000"/>
<circle cx="976.9" cy="150.6" r="2.1" fill="#d00000"/>
<circle cx="978.8" cy="136.8" r="2.1" fill="#d00000"/>
<circle cx="980.7" cy="120.5" r="2.1" fill="#d00000"/>
<circle cx="982.6" cy="101.3" r="2.1" fill="#d00000"/>
<circle cx="984.5" cy="79.3" r="2.1" fill="#d00000"/>
<circle cx="986.4" cy="54.0" r="2.1" fill="#d00000"/>
<line x1="811.8" y1="167.1" x2="970.2" y2="167.1" stroke="#3a9a5a" stroke-width="1" stroke-dasharray="2 2"/>
<line x1="815.6" y1="185.3" x2="966.4" y2="185.3" stroke="#3050ff" stroke-width="1" stroke-dasharray="2 2"/>
<path d="M873.8,168.1 L873.8,184.3 M870.8,171.1 L873.8,168.1 L876.8,171.1 M870.8,181.3 L873.8,184.3 L876.8,181.3" stroke="#000" stroke-width="1.4" fill="none"/>
<text x="859.5" y="180.9" font-family='"Liberation Serif", serif' font-size="13" fill="#222" text-anchor="middle">Δ</text>
<text x="888.0" y="71.7" font-family='"Liberation Serif", serif' font-size="13" fill="#222" text-anchor="middle">(0)</text>
<text x="806.1" y="191.5" font-family='"Liberation Serif", serif' font-size="13" fill="#222" text-anchor="middle">(−1)</text>
<text x="974.0" y="192.9" font-family='"Liberation Serif", serif' font-size="13" fill="#222" text-anchor="middle">(1)</text>
<text x="891" y="230" font-family='"Liberation Sans", sans-serif' font-size="11.2" fill="#222" text-anchor="middle"><tspan font-style="italic">Q</tspan> [amu<tspan font-size="6" dy="-4">½</tspan><tspan dy="4">Å]</tspan></text>
<text transform="translate(733,121) rotate(-90)" font-family='"Liberation Sans", sans-serif' font-size="11.2" fill="#222" text-anchor="middle">Δ<tspan font-style="italic">U</tspan>(<tspan font-style="italic">Q</tspan>) [meV]</text>
<circle cx="705.3" cy="350.7" r="35" fill="url(#gBa2)"/>
<line x1="730" y1="352" x2="761" y2="353.2" stroke="#5cd8b8" stroke-width="6.5"/>
<line x1="761" y1="353.2" x2="795" y2="354.5" stroke="#e01010" stroke-width="6.5"/>
<circle cx="801" cy="354.8" r="11.5" fill="url(#gO)"/>
<text x="662" y="319.5" font-family='"Liberation Sans", sans-serif' font-size="19" font-weight="bold" fill="#222">Ba</text>
<text x="801" y="342" font-family='"Liberation Sans", sans-serif' font-size="18" font-weight="bold" fill="#222">O</text>
<text x="756" y="405.5" font-family='"Liberation Sans", sans-serif' font-size="15.8" fill="#333" text-anchor="middle">Relatively</text>
<text x="756" y="426" font-family='"Liberation Sans", sans-serif' font-size="15.8" fill="#333" text-anchor="middle">weak Ba-O bonds</text>
<rect x="3" y="489" width="320" height="176" fill="url(#gBg)"/>
<rect x="36" y="503" width="212.5" height="157" fill="#b2b2ae"/>
<rect x="36" y="503" width="212.5" height="157" fill="url(#gPlate)"/>
<path d="M222,490 Q285,515 322,566" stroke="#cdbda5" stroke-width="0.8" fill="none"/>
<path d="M6,600 q4,6 8,14" stroke="#d8b890" stroke-width="2" fill="none" opacity="0.6"/>
<rect x="149" y="489" width="40" height="11" fill="#2e2e2e"/>
<defs><clipPath id="cpDisk"><rect x="119.4" y="480" width="150" height="186"/></clipPath><clipPath id="cpFlap"><rect x="40" y="489" width="84.5" height="177"/></clipPath></defs>
<g clip-path="url(#cpDisk)"><ellipse cx="158" cy="578" rx="99.5" ry="88" fill="url(#gDisk)"/><ellipse cx="158" cy="578" rx="99.5" ry="88" fill="#b88040" filter="url(#fPhoto)" opacity="0.3"/></g>
<g clip-path="url(#cpFlap)"><path d="M124.5,490 L110,490 Q64,520 59,582 Q62,640 112,666 L124.5,666 Z" fill="url(#gFlap)"/><path d="M124.5,490 L110,490 Q64,520 59,582 Q62,640 112,666 L124.5,666 Z" fill="#b88848" filter="url(#fPhoto)" opacity="0.3"/></g>
<path d="M87.4,539 L118,539 L118,624 L87.4,624 Z" fill="#c89a58" opacity="0.35"/>
<path d="M87.4,539 L93,539 L93,624 L87.4,624 Z" fill="#8a6430" opacity="0.6"/>
<path d="M72,586 L118,588 L118,592 L72,590 Z" fill="#f0d898" opacity="0.5"/>
<ellipse cx="103" cy="510.7" rx="3" ry="4" fill="#f4f0e0" opacity="0.9"/>
<path d="M120.8,495 L133.6,497 L133.6,536 L120.8,540 Z" fill="#3a2810"/>
<rect x="118" y="540" width="4" height="126" fill="#5a3e1a" opacity="0.7"/>
<path d="M119.4,500 L145,500 L150,577 L119.4,577 Z" fill="#5a3c18" opacity="0.4"/>
<rect x="203" y="526" width="32" height="46" fill="#c8a030"/>
<rect x="208" y="530" width="24" height="5" fill="#e0c878"/>
<circle cx="210" cy="532.5" r="2.6" fill="#d8d8d8"/><circle cx="229" cy="532.5" r="2.6" fill="#d8d8d8"/>
<rect x="208" y="541" width="24" height="5" fill="#e0c878"/>
<circle cx="210" cy="543.5" r="2.6" fill="#d8d8d8"/><circle cx="229" cy="543.5" r="2.6" fill="#d8d8d8"/>
<rect x="208" y="553" width="24" height="5" fill="#e0c878"/>
<circle cx="210" cy="555.5" r="2.6" fill="#d8d8d8"/><circle cx="229" cy="555.5" r="2.6" fill="#d8d8d8"/>
<rect x="208" y="564" width="24" height="5" fill="#e0c878"/>
<circle cx="210" cy="566.5" r="2.6" fill="#d8d8d8"/><circle cx="229" cy="566.5" r="2.6" fill="#d8d8d8"/>
<rect x="163" y="534" width="31" height="28" fill="#a08038" opacity="0.9"/>
<rect x="168" y="537" width="4" height="22" fill="#d8c070"/>
<circle cx="170" cy="539" r="2" fill="#d0d0d0"/><circle cx="170" cy="557" r="2" fill="#d0d0d0"/>
<rect x="176" y="537" width="4" height="22" fill="#d8c070"/>
<circle cx="178" cy="539" r="2" fill="#d0d0d0"/><circle cx="178" cy="557" r="2" fill="#d0d0d0"/>
<rect x="185" y="537" width="4" height="22" fill="#d8c070"/>
<circle cx="187" cy="539" r="2" fill="#d0d0d0"/><circle cx="187" cy="557" r="2" fill="#d0d0d0"/>
<rect x="146" y="596" width="56" height="33" fill="#b89430" opacity="0.95"/>
<rect x="178" y="628" width="31" height="16" fill="#d0a828" opacity="0.9"/>
<rect x="150" y="599" width="4" height="27" fill="#e0c060"/>
<circle cx="152" cy="602" r="2" fill="#d0d0d0"/><circle cx="152" cy="624" r="2" fill="#d0d0d0"/>
<rect x="160" y="599" width="4" height="27" fill="#e0c060"/>
<circle cx="162" cy="602" r="2" fill="#d0d0d0"/><circle cx="162" cy="624" r="2" fill="#d0d0d0"/>
<rect x="172" y="599" width="4" height="27" fill="#e0c060"/>
<circle cx="174" cy="602" r="2" fill="#d0d0d0"/><circle cx="174" cy="624" r="2" fill="#d0d0d0"/>
<rect x="186" y="599" width="4" height="27" fill="#e0c060"/>
<circle cx="188" cy="602" r="2" fill="#d0d0d0"/><circle cx="188" cy="624" r="2" fill="#d0d0d0"/>
<rect x="196" y="599" width="4" height="27" fill="#e0c060"/>
<circle cx="198" cy="602" r="2" fill="#d0d0d0"/><circle cx="198" cy="624" r="2" fill="#d0d0d0"/>
<path d="M168,600 L180,612 L172,625 Z" fill="#4a3010" opacity="0.8"/>
<rect x="115.5" y="573.7" width="56.5" height="20.5" fill="#1c1c1a"/>
<rect x="170.8" y="573.7" width="6.4" height="18" fill="#e8e8e4"/>
<path d="M124,590 q2,-8 6,-10 q3,4 0,8 M149,590 q3,-9 8,-8 q2,5 -3,8" stroke="#d8d8d0" stroke-width="2" fill="none"/>
<path d="M150,570 q6,-12 14,-8 q6,4 10,-4 M128,572 q4,-10 2,-18" stroke="#c8c8c0" stroke-width="1.5" fill="none"/>
<circle cx="169.5" cy="512" r="7.5" fill="#0e0c0a"/>
<circle cx="245.3" cy="576.2" r="7.5" fill="#0e0c0a"/>
<circle cx="83.4" cy="582.7" r="5.5" fill="#0e0c0a"/>
<circle cx="173.4" cy="652" r="7.5" fill="#0e0c0a"/>
<text x="129.5" y="543" font-family='"Liberation Serif", serif' font-size="11" fill="#fff" font-weight="bold">BaBiO<tspan font-size="7" dy="3">3</tspan></text>
<text x="210" y="588" font-family='"Liberation Serif", serif' font-size="11.5" fill="#fff" font-weight="bold">heater</text>
<text x="50" y="619.5" font-family='"Liberation Serif", serif' font-size="10.5" fill="#fff" font-weight="bold" text-anchor="middle">thermal</text>
<text x="52" y="633.5" font-family='"Liberation Serif", serif' font-size="10.5" fill="#fff" font-weight="bold" text-anchor="middle">bath</text>
<text x="148.5" y="643" font-family='"Liberation Serif", serif' font-size="11" fill="#fff" font-weight="bold" text-anchor="middle">Cernox thermometers</text>
<path d="M143.8,548 L143.8,571 M140.8,565 L143.8,572 L146.8,565" stroke="#fff" stroke-width="1.5" fill="none"/>
<path d="M208,586.5 L181,586.5 M187,583.5 L180,586.5 L187,589.5" stroke="#fff" stroke-width="1.5" fill="none"/>
<path d="M57,611 L69,587 M64,590 L69,586 L69.5,593" stroke="#fff" stroke-width="1.5" fill="none"/>
<path d="M132,631.5 L124.5,595 M121.5,601 L124.5,594 L128,600.5" stroke="#fff" stroke-width="1.5" fill="none"/>
<path d="M152.8,631.5 L155.4,596 M152,602 L155.4,595 L158.5,602" stroke="#fff" stroke-width="1.5" fill="none"/>
<text x="154" y="689" font-family='"Liberation Sans", sans-serif' font-size="15.6" fill="#333" text-anchor="middle">Experimental setup</text>
<text x="518.5" y="408" font-family='"Liberation Sans", sans-serif' font-size="15.8" fill="#333" text-anchor="middle">Glass-like thermal conductivity</text>
<rect x="387.8" y="415.5" width="257.7" height="258.5" fill="none" stroke="#333" stroke-width="1.3"/>
<line x1="387.8" y1="674.0" x2="392.8" y2="674.0" stroke="#333" stroke-width="1"/>
<line x1="645.5" y1="674.0" x2="640.5" y2="674.0" stroke="#333" stroke-width="1"/>
<line x1="387.8" y1="648.2" x2="390.8" y2="648.2" stroke="#333" stroke-width="1"/>
<line x1="645.5" y1="648.2" x2="642.5" y2="648.2" stroke="#333" stroke-width="1"/>
<line x1="387.8" y1="622.5" x2="392.8" y2="622.5" stroke="#333" stroke-width="1"/>
<line x1="645.5" y1="622.5" x2="640.5" y2="622.5" stroke="#333" stroke-width="1"/>
<line x1="387.8" y1="596.8" x2="390.8" y2="596.8" stroke="#333" stroke-width="1"/>
<line x1="645.5" y1="596.8" x2="642.5" y2="596.8" stroke="#333" stroke-width="1"/>
<line x1="387.8" y1="571.0" x2="392.8" y2="571.0" stroke="#333" stroke-width="1"/>
<line x1="645.5" y1="571.0" x2="640.5" y2="571.0" stroke="#333" stroke-width="1"/>
<line x1="387.8" y1="545.2" x2="390.8" y2="545.2" stroke="#333" stroke-width="1"/>
<line x1="645.5" y1="545.2" x2="642.5" y2="545.2" stroke="#333" stroke-width="1"/>
<line x1="387.8" y1="519.5" x2="392.8" y2="519.5" stroke="#333" stroke-width="1"/>
<line x1="645.5" y1="519.5" x2="640.5" y2="519.5" stroke="#333" stroke-width="1"/>
<line x1="387.8" y1="493.8" x2="390.8" y2="493.8" stroke="#333" stroke-width="1"/>
<line x1="645.5" y1="493.8" x2="642.5" y2="493.8" stroke="#333" stroke-width="1"/>
<line x1="387.8" y1="468.0" x2="392.8" y2="468.0" stroke="#333" stroke-width="1"/>
<line x1="645.5" y1="468.0" x2="640.5" y2="468.0" stroke="#333" stroke-width="1"/>
<line x1="387.8" y1="442.2" x2="390.8" y2="442.2" stroke="#333" stroke-width="1"/>
<line x1="645.5" y1="442.2" x2="642.5" y2="442.2" stroke="#333" stroke-width="1"/>
<line x1="387.8" y1="416.5" x2="392.8" y2="416.5" stroke="#333" stroke-width="1"/>
<line x1="645.5" y1="416.5" x2="640.5" y2="416.5" stroke="#333" stroke-width="1"/>
<text x="382.8" y="679.5" font-family='"Liberation Serif", serif' font-size="16" fill="#222" text-anchor="end">0.5</text>
<text x="382.8" y="628.0" font-family='"Liberation Serif", serif' font-size="16" fill="#222" text-anchor="end">1.0</text>
<text x="382.8" y="576.5" font-family='"Liberation Serif", serif' font-size="16" fill="#222" text-anchor="end">1.5</text>
<text x="382.8" y="525.0" font-family='"Liberation Serif", serif' font-size="16" fill="#222" text-anchor="end">2.0</text>
<text x="382.8" y="473.5" font-family='"Liberation Serif", serif' font-size="16" fill="#222" text-anchor="end">2.5</text>
<text x="382.8" y="422.0" font-family='"Liberation Serif", serif' font-size="16" fill="#222" text-anchor="end">3.0</text>
<line x1="418.6" y1="674" x2="418.6" y2="671" stroke="#333" stroke-width="1"/>
<line x1="418.6" y1="415.5" x2="418.6" y2="418.5" stroke="#333" stroke-width="1"/>
<line x1="448.7" y1="674" x2="448.7" y2="669" stroke="#333" stroke-width="1"/>
<line x1="448.7" y1="415.5" x2="448.7" y2="420.5" stroke="#333" stroke-width="1"/>
<line x1="478.8" y1="674" x2="478.8" y2="671" stroke="#333" stroke-width="1"/>
<line x1="478.8" y1="415.5" x2="478.8" y2="418.5" stroke="#333" stroke-width="1"/>
<line x1="508.9" y1="674" x2="508.9" y2="669" stroke="#333" stroke-width="1"/>
<line x1="508.9" y1="415.5" x2="508.9" y2="420.5" stroke="#333" stroke-width="1"/>
<line x1="539.0" y1="674" x2="539.0" y2="671" stroke="#333" stroke-width="1"/>
<line x1="539.0" y1="415.5" x2="539.0" y2="418.5" stroke="#333" stroke-width="1"/>
<line x1="569.1" y1="674" x2="569.1" y2="669" stroke="#333" stroke-width="1"/>
<line x1="569.1" y1="415.5" x2="569.1" y2="420.5" stroke="#333" stroke-width="1"/>
<line x1="599.2" y1="674" x2="599.2" y2="671" stroke="#333" stroke-width="1"/>
<line x1="599.2" y1="415.5" x2="599.2" y2="418.5" stroke="#333" stroke-width="1"/>
<line x1="629.3" y1="674" x2="629.3" y2="669" stroke="#333" stroke-width="1"/>
<line x1="629.3" y1="415.5" x2="629.3" y2="420.5" stroke="#333" stroke-width="1"/>
<text x="448.7" y="689" font-family='"Liberation Serif", serif' font-size="15.5" fill="#222" text-anchor="middle">100</text>
<text x="508.9" y="689" font-family='"Liberation Serif", serif' font-size="15.5" fill="#222" text-anchor="middle">200</text>
<text x="569.1" y="689" font-family='"Liberation Serif", serif' font-size="15.5" fill="#222" text-anchor="middle">300</text>
<text x="629.3" y="689" font-family='"Liberation Serif", serif' font-size="15.5" fill="#222" text-anchor="middle">400</text>
<text x="515" y="710" font-family='"Liberation Serif", serif' font-size="20" fill="#222" text-anchor="middle"><tspan font-style="italic">T</tspan> [K]</text>
<text transform="translate(357.5,535) rotate(-90)" font-family='"Liberation Serif", serif' font-size="19.5" fill="#222" text-anchor="middle">κ [Wm<tspan font-size="12" dy="-8">-1</tspan><tspan dy="8">K</tspan><tspan font-size="12" dy="-8">-1</tspan><tspan dy="8">]</tspan></text>
<circle cx="405.3" cy="428.4" r="3.7" fill="none" stroke="#111" stroke-width="1.6"/>
<rect x="401.8" y="439.6" width="7" height="7" fill="none" stroke="#2020f0" stroke-width="1.5"/>
<path d="M405.2,451.5 L411,457.3 L405.2,463.1 L399.4,457.3 Z" fill="#e00000"/>
<text x="420.4" y="431.8" font-family='"Liberation Serif", serif' font-size="11" fill="#111" stroke="#111" stroke-width="0.2">Experiment (Stationary method)</text>
<text x="420.4" y="446.3" font-family='"Liberation Serif", serif' font-size="11" fill="#111" stroke="#111" stroke-width="0.2">Experiment (3ω method)</text>
<text x="420.4" y="460.7" font-family='"Liberation Serif", serif' font-size="11" fill="#111" stroke="#111" stroke-width="0.2">Theory</text>
<path d="M496.9,467.3 L499.7,473.3 L502.6,479.0 L505.4,484.4 L508.3,489.6 L511.2,494.6 L514.0,499.3 L516.9,503.8 L519.7,508.2 L522.6,512.4 L525.5,516.4 L528.3,520.2 L531.2,523.9 L534.0,527.5 L536.9,530.9 L539.8,534.2 L542.6,537.4 L545.5,540.5 L548.3,543.5 L551.2,546.4 L554.0,549.2 L556.9,551.9 L559.8,554.5 L562.6,557.0 L565.5,559.5 L568.3,561.8 L571.2,564.2 L574.1,566.4 L576.9,568.6 L579.8,570.7 L582.6,572.7 L585.5,574.7 L588.4,576.7 L591.2,578.6 L594.1,580.4 L596.9,582.2 L599.8,583.9 L602.7,585.6 L605.5,587.3 L608.4,588.9 L611.2,590.5" stroke="#e82020" stroke-width="1.3" fill="none" stroke-dasharray="4 3"/>
<text x="523" y="492.5" font-family='"Liberation Sans", sans-serif' font-size="21.6" fill="#111">~<tspan font-style="italic">T</tspan><tspan font-size="16.5" dy="-8" dx="5">-0.9</tspan></text>
<circle cx="393.7" cy="669.9" r="3.7" fill="none" stroke="#111" stroke-width="1.25"/>
<circle cx="394.0" cy="665.8" r="3.7" fill="none" stroke="#111" stroke-width="1.25"/>
<circle cx="394.4" cy="661.6" r="3.7" fill="none" stroke="#111" stroke-width="1.25"/>
<circle cx="394.8" cy="657.5" r="3.7" fill="none" stroke="#111" stroke-width="1.25"/>
<circle cx="395.1" cy="653.4" r="3.7" fill="none" stroke="#111" stroke-width="1.25"/>
<circle cx="395.5" cy="649.3" r="3.7" fill="none" stroke="#111" stroke-width="1.25"/>
<circle cx="396.0" cy="645.2" r="3.7" fill="none" stroke="#111" stroke-width="1.25"/>
<circle cx="396.5" cy="641.0" r="3.7" fill="none" stroke="#111" stroke-width="1.25"/>
<circle cx="397.0" cy="636.9" r="3.7" fill="none" stroke="#111" stroke-width="1.25"/>
<circle cx="397.7" cy="633.8" r="3.7" fill="none" stroke="#111" stroke-width="1.25"/>
<circle cx="398.4" cy="630.7" r="3.7" fill="none" stroke="#111" stroke-width="1.25"/>
<circle cx="399.3" cy="627.6" r="3.7" fill="none" stroke="#111" stroke-width="1.25"/>
<circle cx="400.5" cy="624.6" r="3.7" fill="none" stroke="#111" stroke-width="1.25"/>
<circle cx="402.0" cy="621.5" r="3.7" fill="none" stroke="#111" stroke-width="1.25"/>
<circle cx="403.6" cy="618.4" r="3.7" fill="none" stroke="#111" stroke-width="1.25"/>
<circle cx="405.4" cy="615.3" r="3.7" fill="none" stroke="#111" stroke-width="1.25"/>
<circle cx="407.2" cy="613.2" r="3.7" fill="none" stroke="#111" stroke-width="1.25"/>
<circle cx="409.6" cy="610.1" r="3.7" fill="none" stroke="#111" stroke-width="1.25"/>
<circle cx="411.4" cy="606.0" r="3.7" fill="none" stroke="#111" stroke-width="1.25"/>
<circle cx="413.8" cy="612.2" r="3.7" fill="none" stroke="#111" stroke-width="1.25"/>
<circle cx="416.2" cy="605.0" r="3.7" fill="none" stroke="#111" stroke-width="1.25"/>
<circle cx="418.6" cy="602.9" r="3.7" fill="none" stroke="#111" stroke-width="1.25"/>
<circle cx="421.6" cy="598.8" r="3.7" fill="none" stroke="#111" stroke-width="1.25"/>
<circle cx="424.6" cy="592.6" r="3.7" fill="none" stroke="#111" stroke-width="1.25"/>
<circle cx="426.4" cy="589.5" r="3.7" fill="none" stroke="#111" stroke-width="1.25"/>
<circle cx="428.8" cy="586.5" r="3.7" fill="none" stroke="#111" stroke-width="1.25"/>
<circle cx="431.8" cy="585.4" r="3.7" fill="none" stroke="#111" stroke-width="1.25"/>
<circle cx="434.9" cy="586.5" r="3.7" fill="none" stroke="#111" stroke-width="1.25"/>
<circle cx="439.7" cy="578.2" r="3.7" fill="none" stroke="#111" stroke-width="1.25"/>
<circle cx="442.7" cy="583.4" r="3.7" fill="none" stroke="#111" stroke-width="1.25"/>
<circle cx="447.5" cy="582.4" r="3.7" fill="none" stroke="#111" stroke-width="1.25"/>
<circle cx="452.9" cy="580.9" r="3.7" fill="none" stroke="#111" stroke-width="1.25"/>
<circle cx="458.3" cy="579.5" r="3.7" fill="none" stroke="#111" stroke-width="1.25"/>
<circle cx="463.8" cy="578.1" r="3.7" fill="none" stroke="#111" stroke-width="1.25"/>
<circle cx="469.2" cy="576.6" r="3.7" fill="none" stroke="#111" stroke-width="1.25"/>
<circle cx="474.6" cy="575.2" r="3.7" fill="none" stroke="#111" stroke-width="1.25"/>
<circle cx="480.0" cy="573.7" r="3.7" fill="none" stroke="#111" stroke-width="1.25"/>
<circle cx="485.4" cy="572.3" r="3.7" fill="none" stroke="#111" stroke-width="1.25"/>
<circle cx="490.8" cy="570.9" r="3.7" fill="none" stroke="#111" stroke-width="1.25"/>
<circle cx="496.3" cy="569.4" r="3.7" fill="none" stroke="#111" stroke-width="1.25"/>
<circle cx="501.7" cy="567.6" r="3.7" fill="none" stroke="#111" stroke-width="1.25"/>
<circle cx="507.1" cy="565.1" r="3.7" fill="none" stroke="#111" stroke-width="1.25"/>
<circle cx="512.5" cy="562.5" r="3.7" fill="none" stroke="#111" stroke-width="1.25"/>
<circle cx="517.9" cy="560.0" r="3.7" fill="none" stroke="#111" stroke-width="1.25"/>
<circle cx="523.3" cy="557.4" r="3.7" fill="none" stroke="#111" stroke-width="1.25"/>
<circle cx="528.2" cy="551.4" r="3.7" fill="none" stroke="#111" stroke-width="1.25"/>
<circle cx="536.0" cy="550.4" r="3.7" fill="none" stroke="#111" stroke-width="1.25"/>
<circle cx="543.8" cy="550.4" r="3.7" fill="none" stroke="#111" stroke-width="1.25"/>
<circle cx="552.2" cy="551.4" r="3.7" fill="none" stroke="#111" stroke-width="1.25"/>
<circle cx="560.1" cy="554.5" r="3.7" fill="none" stroke="#111" stroke-width="1.25"/>
<circle cx="566.1" cy="560.7" r="3.7" fill="none" stroke="#111" stroke-width="1.25"/>
<circle cx="569.1" cy="562.8" r="3.7" fill="none" stroke="#111" stroke-width="1.25"/>
<circle cx="575.1" cy="561.7" r="3.7" fill="none" stroke="#111" stroke-width="1.25"/>
<path d="M427.5,553 L427.5,570" stroke="#111" stroke-width="1.1" fill="none"/><path d="M424,568 L427.5,578 L431,568 Z" fill="#111"/>
<rect x="562.9" y="531.6999999999999" width="6.2" height="6.2" fill="none" stroke="#2020e0" stroke-width="1.2"/>
<rect x="579.1999999999999" y="533.9" width="6.2" height="6.2" fill="none" stroke="#2020e0" stroke-width="1.2"/>
<rect x="586.0" y="540.6999999999999" width="6.2" height="6.2" fill="none" stroke="#2020e0" stroke-width="1.2"/>
<rect x="593.6" y="542.9" width="6.2" height="6.2" fill="none" stroke="#2020e0" stroke-width="1.2"/>
<rect x="601.6" y="542.5" width="6.2" height="6.2" fill="none" stroke="#2020e0" stroke-width="1.2"/>
<rect x="608.8" y="550.9" width="6.2" height="6.2" fill="none" stroke="#2020e0" stroke-width="1.2"/>
<rect x="616.4" y="559.9" width="6.2" height="6.2" fill="none" stroke="#2020e0" stroke-width="1.2"/>
<rect x="624.4" y="562.8" width="6.2" height="6.2" fill="none" stroke="#2020e0" stroke-width="1.2"/>
<path d="M508.9,484.7 L514.9,490.7 L508.9,496.7 L502.9,490.7 Z" fill="#e00000"/>
<path d="M538.9,524.5 L544.9,530.5 L538.9,536.5 L532.9,530.5 Z" fill="#e00000"/>
<path d="M569.6,551.6 L575.6,557.6 L569.6,563.6 L563.6,557.6 Z" fill="#e00000"/>
<path d="M600.3,571.5 L606.3,577.5 L600.3,583.5 L594.3,577.5 Z" fill="#e00000"/>
<defs><clipPath id="cpp"><rect x="705.1" y="466.7" width="310.4" height="182.40000000000003"/></clipPath></defs>
<g clip-path="url(#cpp)" stroke="#2828ff" stroke-width="1.7" fill="none"><path d="M705.1,601.4 C707.8,600.8 715.9,599.9 721.2,597.8 C726.6,595.7 732.8,590.4 737.4,588.6 C742.0,586.9 744.9,587.2 748.6,587.4 C752.4,587.7 755.5,587.7 759.9,590.0 C764.3,592.3 770.2,600.6 775.3,601.3 C780.5,601.9 786.3,595.5 790.8,593.7 C795.3,592.0 798.4,589.5 802.2,590.5 C806.0,591.6 808.5,598.7 813.6,600.1 C818.7,601.6 826.3,601.3 832.6,599.0 C838.9,596.7 845.8,587.3 851.6,586.1 C857.4,584.9 862.0,591.9 867.2,591.8 C872.5,591.7 877.1,584.5 882.9,585.8 C888.7,587.0 895.7,598.2 902.1,599.4 C908.5,600.6 915.5,595.8 921.3,592.9 C927.1,590.1 931.8,582.1 937.1,582.2 C942.4,582.2 947.7,591.6 952.9,593.1 C958.1,594.6 963.3,590.1 968.5,591.2 C973.8,592.3 979.0,599.1 984.2,599.7 C989.4,600.2 994.6,593.3 999.9,594.3 C1005.1,595.2 1012.9,603.5 1015.5,605.3 "/><path d="M705.1,578.3 C707.8,579.6 715.9,584.0 721.2,586.4 C726.6,588.7 732.8,592.2 737.4,592.4 C742.0,592.6 744.9,588.9 748.6,587.7 C752.4,586.5 755.5,585.4 759.9,585.3 C764.3,585.1 770.2,587.3 775.3,586.6 C780.5,586.0 786.3,581.2 790.8,581.2 C795.3,581.1 798.4,584.6 802.2,586.1 C806.0,587.7 808.5,590.3 813.6,590.4 C818.7,590.6 826.3,590.5 832.6,587.1 C838.9,583.7 845.8,570.1 851.6,570.1 C857.4,570.2 862.0,585.0 867.2,587.3 C872.5,589.7 877.1,585.7 882.9,584.3 C888.7,582.9 895.7,578.0 902.1,578.9 C908.5,579.8 915.5,588.1 921.3,589.5 C927.1,590.9 931.8,589.9 937.1,587.2 C942.4,584.5 947.7,575.3 952.9,573.4 C958.1,571.5 963.3,572.9 968.5,575.7 C973.8,578.5 979.0,588.4 984.2,590.2 C989.4,592.1 994.6,590.1 999.9,586.8 C1005.1,583.6 1012.9,573.4 1015.5,570.7 "/><path d="M705.1,563.6 C707.8,562.4 715.9,555.8 721.2,556.1 C726.6,556.4 732.8,563.3 737.4,565.5 C742.0,567.6 744.9,568.6 748.6,569.1 C752.4,569.7 755.5,568.4 759.9,568.8 C764.3,569.3 770.2,571.7 775.3,571.7 C780.5,571.7 786.3,568.6 790.8,568.6 C795.3,568.7 798.4,571.2 802.2,571.9 C806.0,572.7 808.5,572.8 813.6,573.1 C818.7,573.4 826.3,574.4 832.6,573.8 C838.9,573.2 845.8,570.7 851.6,569.4 C857.4,568.2 862.0,563.5 867.2,566.0 C872.5,568.5 877.1,581.5 882.9,584.2 C888.7,586.9 895.7,583.8 902.1,582.4 C908.5,580.9 915.5,575.7 921.3,575.6 C927.1,575.5 931.8,583.1 937.1,581.7 C942.4,580.3 947.7,566.8 952.9,567.1 C958.1,567.4 963.3,581.0 968.5,583.6 C973.8,586.1 979.0,584.8 984.2,582.3 C989.4,579.8 994.6,571.7 999.9,568.8 C1005.1,565.8 1012.9,565.4 1015.5,564.8 "/><path d="M705.1,557.0 C707.8,558.5 715.9,564.3 721.2,566.3 C726.6,568.3 732.8,570.1 737.4,569.1 C742.0,568.0 744.9,559.8 748.6,559.8 C752.4,559.8 755.5,567.2 759.9,569.2 C764.3,571.2 770.2,572.0 775.3,571.8 C780.5,571.6 786.3,569.2 790.8,567.7 C795.3,566.3 798.4,564.0 802.2,563.2 C806.0,562.4 808.5,561.2 813.6,562.9 C818.7,564.7 826.3,571.4 832.6,573.5 C838.9,575.7 845.8,574.7 851.6,575.7 C857.4,576.7 862.0,581.2 867.2,579.7 C872.5,578.1 877.1,566.9 882.9,566.3 C888.7,565.8 895.7,576.2 902.1,576.4 C908.5,576.7 915.5,570.3 921.3,567.6 C927.1,564.8 931.8,560.2 937.1,559.9 C942.4,559.7 947.7,565.1 952.9,566.0 C958.1,566.9 963.3,563.5 968.5,565.3 C973.8,567.1 979.0,574.3 984.2,576.7 C989.4,579.1 994.6,579.5 999.9,579.6 C1005.1,579.6 1012.9,577.4 1015.5,577.0 "/><path d="M705.1,558.4 C707.8,559.4 715.9,564.0 721.2,564.0 C726.6,564.1 732.8,561.3 737.4,558.6 C742.0,555.9 744.9,548.6 748.6,547.7 C752.4,546.8 755.5,551.2 759.9,553.2 C764.3,555.2 770.2,560.1 775.3,559.9 C780.5,559.6 786.3,550.4 790.8,551.8 C795.3,553.1 798.4,565.6 802.2,567.9 C806.0,570.1 808.5,567.9 813.6,565.1 C818.7,562.4 826.3,553.8 832.6,551.4 C838.9,549.0 845.8,552.0 851.6,551.0 C857.4,550.0 862.0,545.2 867.2,545.4 C872.5,545.5 877.1,549.8 882.9,551.7 C888.7,553.5 895.7,555.0 902.1,556.6 C908.5,558.1 915.5,561.8 921.3,560.7 C927.1,559.6 931.8,551.0 937.1,549.8 C942.4,548.6 947.7,550.5 952.9,553.6 C958.1,556.6 963.3,566.5 968.5,568.1 C973.8,569.7 979.0,562.8 984.2,563.1 C989.4,563.4 994.6,569.3 999.9,569.8 C1005.1,570.3 1012.9,566.6 1015.5,565.9 "/><path d="M705.1,561.9 C707.8,561.6 715.9,560.3 721.2,559.8 C726.6,559.3 732.8,559.3 737.4,558.8 C742.0,558.3 744.9,555.8 748.6,556.8 C752.4,557.8 755.5,561.6 759.9,564.8 C764.3,568.1 770.2,575.9 775.3,576.4 C780.5,576.8 786.3,568.3 790.8,567.3 C795.3,566.3 798.4,571.4 802.2,570.3 C806.0,569.2 808.5,564.7 813.6,560.7 C818.7,556.8 826.3,548.8 832.6,546.5 C838.9,544.3 845.8,548.3 851.6,547.1 C857.4,546.0 862.0,540.0 867.2,539.6 C872.5,539.3 877.1,545.1 882.9,545.1 C888.7,545.1 895.7,538.7 902.1,539.6 C908.5,540.6 915.5,548.8 921.3,550.8 C927.1,552.9 931.8,550.8 937.1,551.9 C942.4,552.9 947.7,555.7 952.9,557.3 C958.1,559.0 963.3,560.8 968.5,561.7 C973.8,562.6 979.0,564.4 984.2,562.8 C989.4,561.3 994.6,555.3 999.9,552.5 C1005.1,549.6 1012.9,546.8 1015.5,545.7 "/><path d="M705.1,542.3 C707.8,542.1 715.9,539.0 721.2,541.1 C726.6,543.3 732.8,553.8 737.4,555.4 C742.0,557.0 744.9,551.7 748.6,550.8 C752.4,549.9 755.5,548.7 759.9,549.9 C764.3,551.2 770.2,557.3 775.3,558.4 C780.5,559.4 786.3,557.2 790.8,556.2 C795.3,555.2 798.4,554.3 802.2,552.3 C806.0,550.3 808.5,545.7 813.6,544.2 C818.7,542.7 826.3,540.3 832.6,543.4 C838.9,546.5 845.8,562.3 851.6,562.6 C857.4,563.0 862.0,548.3 867.2,545.6 C872.5,542.8 877.1,545.3 882.9,546.2 C888.7,547.1 895.7,552.1 902.1,551.0 C908.5,549.9 915.5,538.2 921.3,539.7 C927.1,541.2 931.8,556.1 937.1,559.9 C942.4,563.6 947.7,561.6 952.9,562.3 C958.1,563.0 963.3,566.6 968.5,564.3 C973.8,562.0 979.0,549.5 984.2,548.5 C989.4,547.5 994.6,558.4 999.9,558.2 C1005.1,558.0 1012.9,549.1 1015.5,547.2 "/><path d="M705.1,546.0 C707.8,547.0 715.9,551.1 721.2,552.3 C726.6,553.6 732.8,555.5 737.4,553.4 C742.0,551.3 744.9,542.9 748.6,540.0 C752.4,537.0 755.5,536.2 759.9,535.7 C764.3,535.3 770.2,536.4 775.3,537.2 C780.5,538.1 786.3,537.6 790.8,540.9 C795.3,544.2 798.4,555.1 802.2,557.2 C806.0,559.4 808.5,555.9 813.6,553.7 C818.7,551.6 826.3,545.8 832.6,544.1 C838.9,542.5 845.8,544.7 851.6,543.7 C857.4,542.7 862.0,537.3 867.2,538.2 C872.5,539.0 877.1,548.5 882.9,548.9 C888.7,549.4 895.7,541.6 902.1,540.9 C908.5,540.2 915.5,544.7 921.3,544.8 C927.1,545.0 931.8,540.7 937.1,541.8 C942.4,542.9 947.7,548.0 952.9,551.5 C958.1,555.0 963.3,562.7 968.5,562.9 C973.8,563.1 979.0,554.4 984.2,552.8 C989.4,551.2 994.6,553.4 999.9,553.4 C1005.1,553.3 1012.9,552.5 1015.5,552.3 "/><path d="M705.1,549.2 C707.8,548.5 715.9,548.0 721.2,545.2 C726.6,542.3 732.8,533.2 737.4,532.2 C742.0,531.2 744.9,536.9 748.6,539.3 C752.4,541.7 755.5,546.5 759.9,546.5 C764.3,546.4 770.2,541.1 775.3,538.9 C780.5,536.7 786.3,535.1 790.8,533.5 C795.3,531.9 798.4,527.4 802.2,529.2 C806.0,531.1 808.5,541.5 813.6,544.6 C818.7,547.7 826.3,549.8 832.6,548.0 C838.9,546.2 845.8,535.8 851.6,533.8 C857.4,531.9 862.0,534.7 867.2,536.3 C872.5,537.8 877.1,541.5 882.9,543.1 C888.7,544.8 895.7,545.1 902.1,546.2 C908.5,547.3 915.5,550.7 921.3,549.7 C927.1,548.7 931.8,541.8 937.1,540.4 C942.4,539.0 947.7,542.7 952.9,541.3 C958.1,539.9 963.3,531.7 968.5,532.1 C973.8,532.4 979.0,541.9 984.2,543.2 C989.4,544.6 994.6,542.6 999.9,540.2 C1005.1,537.8 1012.9,530.8 1015.5,528.9 "/><path d="M705.1,527.7 C707.8,529.6 715.9,538.4 721.2,539.1 C726.6,539.8 732.8,534.3 737.4,531.9 C742.0,529.5 744.9,524.7 748.6,524.6 C752.4,524.5 755.5,529.9 759.9,531.1 C764.3,532.2 770.2,529.4 775.3,531.4 C780.5,533.4 786.3,542.5 790.8,543.1 C795.3,543.7 798.4,538.2 802.2,535.1 C806.0,532.1 808.5,527.4 813.6,524.9 C818.7,522.4 826.3,520.9 832.6,520.3 C838.9,519.6 845.8,517.8 851.6,520.9 C857.4,524.1 862.0,536.5 867.2,539.0 C872.5,541.5 877.1,537.0 882.9,536.0 C888.7,535.1 895.7,533.2 902.1,533.3 C908.5,533.5 915.5,537.5 921.3,536.9 C927.1,536.4 931.8,532.7 937.1,530.0 C942.4,527.3 947.7,520.4 952.9,520.5 C958.1,520.7 963.3,527.3 968.5,530.9 C973.8,534.5 979.0,539.7 984.2,542.1 C989.4,544.4 994.6,544.7 999.9,544.9 C1005.1,545.0 1012.9,543.2 1015.5,542.8 "/><path d="M705.1,528.8 C707.8,529.3 715.9,530.6 721.2,531.3 C726.6,532.0 732.8,532.9 737.4,533.1 C742.0,533.3 744.9,531.7 748.6,532.4 C752.4,533.1 755.5,539.0 759.9,537.4 C764.3,535.8 770.2,524.2 775.3,522.6 C780.5,521.1 786.3,525.3 790.8,528.1 C795.3,530.9 798.4,538.6 802.2,539.4 C806.0,540.1 808.5,534.6 813.6,532.6 C818.7,530.6 826.3,529.3 832.6,527.5 C838.9,525.6 845.8,522.7 851.6,521.5 C857.4,520.3 862.0,520.8 867.2,520.3 C872.5,519.8 877.1,519.6 882.9,518.7 C888.7,517.9 895.7,514.8 902.1,515.1 C908.5,515.5 915.5,520.9 921.3,521.0 C927.1,521.1 931.8,514.7 937.1,515.7 C942.4,516.8 947.7,526.1 952.9,527.5 C958.1,528.9 963.3,523.2 968.5,524.1 C973.8,525.0 979.0,532.2 984.2,532.9 C989.4,533.6 994.6,528.9 999.9,528.3 C1005.1,527.7 1012.9,529.1 1015.5,529.2 "/><path d="M705.1,514.1 C707.8,512.5 715.9,504.1 721.2,504.5 C726.6,504.9 732.8,512.9 737.4,516.3 C742.0,519.7 744.9,525.5 748.6,524.8 C752.4,524.0 755.5,512.8 759.9,511.7 C764.3,510.5 770.2,517.1 775.3,517.7 C780.5,518.4 786.3,515.2 790.8,515.6 C795.3,515.9 798.4,519.8 802.2,519.9 C806.0,519.9 808.5,515.3 813.6,515.9 C818.7,516.6 826.3,521.9 832.6,523.6 C838.9,525.4 845.8,526.1 851.6,526.6 C857.4,527.0 862.0,528.9 867.2,526.2 C872.5,523.4 877.1,512.0 882.9,510.3 C888.7,508.5 895.7,513.4 902.1,515.5 C908.5,517.7 915.5,520.8 921.3,523.2 C927.1,525.5 931.8,530.5 937.1,529.6 C942.4,528.6 947.7,519.3 952.9,517.6 C958.1,515.9 963.3,520.2 968.5,519.4 C973.8,518.5 979.0,515.5 984.2,512.5 C989.4,509.5 994.6,501.7 999.9,501.1 C1005.1,500.6 1012.9,507.8 1015.5,509.1 "/><path d="M705.1,508.4 C707.8,509.6 715.9,514.6 721.2,515.7 C726.6,516.8 732.8,513.7 737.4,515.2 C742.0,516.8 744.9,523.5 748.6,524.9 C752.4,526.3 755.5,527.0 759.9,523.8 C764.3,520.7 770.2,509.4 775.3,506.0 C780.5,502.6 786.3,501.9 790.8,503.2 C795.3,504.6 798.4,512.9 802.2,513.9 C806.0,514.9 808.5,509.8 813.6,509.4 C818.7,509.0 826.3,509.4 832.6,511.4 C838.9,513.5 845.8,519.0 851.6,521.5 C857.4,524.0 862.0,527.0 867.2,526.4 C872.5,525.9 877.1,520.6 882.9,518.3 C888.7,516.0 895.7,513.7 902.1,512.5 C908.5,511.2 915.5,510.4 921.3,510.9 C927.1,511.3 931.8,515.4 937.1,515.3 C942.4,515.1 947.7,509.5 952.9,509.9 C958.1,510.3 963.3,516.0 968.5,517.7 C973.8,519.4 979.0,522.7 984.2,520.1 C989.4,517.5 994.6,504.9 999.9,502.1 C1005.1,499.3 1012.9,503.1 1015.5,503.4 "/><path d="M705.1,507.8 C707.8,506.3 715.9,498.6 721.2,498.7 C726.6,498.8 732.8,508.0 737.4,508.6 C742.0,509.1 744.9,502.6 748.6,501.9 C752.4,501.2 755.5,501.4 759.9,504.2 C764.3,507.0 770.2,517.4 775.3,518.8 C780.5,520.1 786.3,513.2 790.8,512.4 C795.3,511.5 798.4,513.2 802.2,513.6 C806.0,514.0 808.5,513.5 813.6,514.9 C818.7,516.4 826.3,523.3 832.6,522.5 C838.9,521.6 845.8,512.1 851.6,509.8 C857.4,507.6 862.0,508.4 867.2,508.8 C872.5,509.3 877.1,512.5 882.9,512.6 C888.7,512.6 895.7,508.9 902.1,509.2 C908.5,509.5 915.5,514.3 921.3,514.6 C927.1,514.9 931.8,514.0 937.1,510.9 C942.4,507.8 947.7,494.7 952.9,495.8 C958.1,497.0 963.3,514.1 968.5,517.8 C973.8,521.6 979.0,520.0 984.2,518.3 C989.4,516.7 994.6,511.1 999.9,507.9 C1005.1,504.8 1012.9,500.9 1015.5,499.5 "/><path d="M705.1,509.6 C707.8,509.5 715.9,510.0 721.2,509.1 C726.6,508.2 732.8,505.7 737.4,504.4 C742.0,503.1 744.9,502.1 748.6,501.5 C752.4,500.9 755.5,500.9 759.9,500.9 C764.3,500.9 770.2,503.3 775.3,501.5 C780.5,499.7 786.3,492.1 790.8,490.2 C795.3,488.2 798.4,487.8 802.2,489.9 C806.0,492.0 808.5,501.5 813.6,502.9 C818.7,504.3 826.3,497.3 832.6,498.2 C838.9,499.2 845.8,509.8 851.6,508.6 C857.4,507.5 862.0,494.0 867.2,491.3 C872.5,488.7 877.1,493.9 882.9,492.7 C888.7,491.4 895.7,484.0 902.1,483.9 C908.5,483.8 915.5,488.2 921.3,491.9 C927.1,495.6 931.8,504.8 937.1,506.0 C942.4,507.2 947.7,499.5 952.9,499.0 C958.1,498.5 963.3,501.1 968.5,503.1 C973.8,505.0 979.0,508.2 984.2,510.7 C989.4,513.2 994.6,518.7 999.9,518.2 C1005.1,517.6 1012.9,509.1 1015.5,507.3 "/><path d="M705.1,482.7 C707.8,483.9 715.9,489.0 721.2,489.6 C726.6,490.3 732.8,486.5 737.4,486.5 C742.0,486.4 744.9,489.6 748.6,489.5 C752.4,489.5 755.5,484.8 759.9,486.2 C764.3,487.5 770.2,495.2 775.3,497.5 C780.5,499.8 786.3,499.8 790.8,500.0 C795.3,500.2 798.4,498.3 802.2,498.8 C806.0,499.3 808.5,505.4 813.6,503.1 C818.7,500.9 826.3,488.5 832.6,485.4 C838.9,482.4 845.8,482.9 851.6,484.8 C857.4,486.7 862.0,495.9 867.2,496.7 C872.5,497.6 877.1,489.5 882.9,489.9 C888.7,490.3 895.7,499.2 902.1,499.2 C908.5,499.1 915.5,490.9 921.3,489.5 C927.1,488.2 931.8,490.5 937.1,491.1 C942.4,491.7 947.7,494.1 952.9,493.2 C958.1,492.2 963.3,486.6 968.5,485.3 C973.8,483.9 979.0,483.1 984.2,485.2 C989.4,487.2 994.6,495.7 999.9,497.6 C1005.1,499.4 1012.9,496.6 1015.5,496.4 "/><path d="M705.1,490.8 C707.8,490.5 715.9,488.3 721.2,489.2 C726.6,490.0 732.8,495.5 737.4,495.9 C742.0,496.2 744.9,491.1 748.6,491.2 C752.4,491.3 755.5,496.6 759.9,496.4 C764.3,496.3 770.2,492.2 775.3,490.3 C780.5,488.5 786.3,485.0 790.8,485.3 C795.3,485.6 798.4,493.0 802.2,492.3 C806.0,491.5 808.5,483.8 813.6,480.8 C818.7,477.7 826.3,473.8 832.6,474.0 C838.9,474.1 845.8,478.2 851.6,481.4 C857.4,484.7 862.0,491.7 867.2,493.7 C872.5,495.7 877.1,491.7 882.9,493.5 C888.7,495.2 895.7,504.0 902.1,504.2 C908.5,504.4 915.5,497.5 921.3,494.8 C927.1,492.1 931.8,491.3 937.1,488.0 C942.4,484.6 947.7,476.2 952.9,474.7 C958.1,473.2 963.3,477.2 968.5,478.8 C973.8,480.3 979.0,483.5 984.2,484.2 C989.4,484.9 994.6,482.5 999.9,483.0 C1005.1,483.5 1012.9,486.7 1015.5,487.4 "/><path d="M705.1,485.8 C707.8,484.6 715.9,480.7 721.2,478.6 C726.6,476.4 732.8,474.8 737.4,472.8 C742.0,470.8 744.9,465.6 748.6,466.5 C752.4,467.4 755.5,477.2 759.9,478.0 C764.3,478.9 770.2,470.4 775.3,471.8 C780.5,473.1 786.3,484.7 790.8,486.1 C795.3,487.5 798.4,482.9 802.2,480.1 C806.0,477.3 808.5,472.7 813.6,469.4 C818.7,466.0 826.3,460.1 832.6,460.2 C838.9,460.4 845.8,470.5 851.6,470.4 C857.4,470.3 862.0,460.1 867.2,459.7 C872.5,459.3 877.1,467.2 882.9,468.0 C888.7,468.8 895.7,463.4 902.1,464.3 C908.5,465.3 915.5,469.3 921.3,473.5 C927.1,477.8 931.8,487.9 937.1,489.8 C942.4,491.7 947.7,486.2 952.9,484.7 C958.1,483.3 963.3,483.4 968.5,481.2 C973.8,478.9 979.0,473.5 984.2,471.1 C989.4,468.8 994.6,467.6 999.9,467.1 C1005.1,466.6 1012.9,467.9 1015.5,468.1 "/><path d="M705.1,468.0 C707.8,466.8 715.9,461.5 721.2,460.9 C726.6,460.3 732.8,465.0 737.4,464.4 C742.0,463.8 744.9,456.9 748.6,457.3 C752.4,457.8 755.5,463.9 759.9,467.0 C764.3,470.1 770.2,474.0 775.3,475.9 C780.5,477.9 786.3,478.4 790.8,478.8 C795.3,479.3 798.4,481.7 802.2,478.6 C806.0,475.5 808.5,462.1 813.6,460.1 C818.7,458.2 826.3,465.4 832.6,467.0 C838.9,468.6 845.8,468.8 851.6,469.7 C857.4,470.6 862.0,474.0 867.2,472.6 C872.5,471.2 877.1,462.0 882.9,461.3 C888.7,460.7 895.7,465.9 902.1,468.7 C908.5,471.4 915.5,479.0 921.3,477.7 C927.1,476.5 931.8,464.4 937.1,461.2 C942.4,458.0 947.7,457.6 952.9,458.5 C958.1,459.4 963.3,465.1 968.5,466.9 C973.8,468.7 979.0,468.0 984.2,469.3 C989.4,470.6 994.6,475.5 999.9,474.6 C1005.1,473.8 1012.9,465.7 1015.5,463.9 "/><path d="M705.1,474.8 C707.8,475.4 715.9,479.8 721.2,478.2 C726.6,476.6 732.8,466.7 737.4,465.2 C742.0,463.6 744.9,469.6 748.6,469.0 C752.4,468.3 755.5,461.2 759.9,461.4 C764.3,461.5 770.2,467.5 775.3,469.7 C780.5,472.0 786.3,475.8 790.8,474.8 C795.3,473.9 798.4,466.6 802.2,464.0 C806.0,461.4 808.5,460.1 813.6,459.3 C818.7,458.4 826.3,457.1 832.6,458.9 C838.9,460.7 845.8,469.1 851.6,470.3 C857.4,471.5 862.0,465.7 867.2,466.1 C872.5,466.5 877.1,473.9 882.9,472.9 C888.7,471.8 895.7,462.9 902.1,459.6 C908.5,456.3 915.5,452.3 921.3,452.9 C927.1,453.5 931.8,461.6 937.1,463.2 C942.4,464.9 947.7,463.3 952.9,462.8 C958.1,462.2 963.3,461.3 968.5,459.8 C973.8,458.3 979.0,453.5 984.2,453.7 C989.4,453.9 994.6,459.5 999.9,461.0 C1005.1,462.6 1012.9,462.6 1015.5,463.0 "/><path d="M705.1,649.1 C707.8,644.6 715.9,630.9 721.2,622.4 C726.6,613.9 732.8,602.8 737.4,598.1 C742.0,593.4 744.9,593.6 748.6,594.5 C752.4,595.3 755.5,601.9 759.9,603.0 C764.3,604.0 770.2,600.1 775.3,600.5 C780.5,600.9 786.3,603.4 790.8,605.4 C795.3,607.4 798.4,605.4 802.2,612.7 C806.0,620.0 808.5,649.1 813.6,649.1 C818.7,649.1 826.3,620.8 832.6,612.7 C838.9,604.6 845.8,603.6 851.6,600.5 C857.4,597.5 862.0,596.5 867.2,594.5 C872.5,592.4 877.1,589.0 882.9,588.4 C888.7,587.8 895.7,590.0 902.1,590.8 C908.5,591.6 915.5,593.6 921.3,593.2 C927.1,592.8 931.8,589.6 937.1,588.4 C942.4,587.2 947.7,585.6 952.9,586.0 C958.1,586.4 963.3,588.4 968.5,590.8 C973.8,593.2 979.0,595.3 984.2,600.5 C989.4,605.8 994.6,614.3 999.9,622.4 C1005.1,630.5 1012.9,644.6 1015.5,649.1 "/><path d="M705.1,649.1 C707.8,643.8 715.9,627.2 721.2,617.5 C726.6,607.8 732.8,595.7 737.4,590.8 C742.0,586.0 744.9,587.2 748.6,588.4 C752.4,589.6 755.5,596.9 759.9,598.1 C764.3,599.3 770.2,595.3 775.3,595.7 C780.5,596.1 786.3,598.5 790.8,600.5 C795.3,602.6 798.4,599.7 802.2,607.8 C806.0,615.9 808.5,649.1 813.6,649.1 C818.7,649.1 826.3,616.7 832.6,607.8 C838.9,598.9 845.8,598.9 851.6,595.7 C857.4,592.4 862.0,590.8 867.2,588.4 C872.5,586.0 877.1,581.9 882.9,581.1 C888.7,580.3 895.7,582.7 902.1,583.5 C908.5,584.3 915.5,586.0 921.3,586.0 C927.1,586.0 931.8,584.3 937.1,583.5 C942.4,582.7 947.7,580.7 952.9,581.1 C958.1,581.5 963.3,583.5 968.5,586.0 C973.8,588.4 979.0,590.4 984.2,595.7 C989.4,600.9 994.6,608.6 999.9,617.5 C1005.1,626.4 1012.9,643.8 1015.5,649.1 "/><path d="M705.1,649.1 C707.8,642.6 715.9,620.8 721.2,610.2 C726.6,599.7 732.8,590.8 737.4,586.0 C742.0,581.1 744.9,581.1 748.6,581.1 C752.4,581.1 755.5,585.6 759.9,586.0 C764.3,586.4 770.2,582.7 775.3,583.5 C780.5,584.3 786.3,588.0 790.8,590.8 C795.3,593.6 798.4,590.8 802.2,600.5 C806.0,610.2 808.5,649.1 813.6,649.1 C818.7,649.1 826.3,611.1 832.6,600.5 C838.9,590.0 845.8,589.6 851.6,586.0 C857.4,582.3 862.0,580.7 867.2,578.7 C872.5,576.6 877.1,574.2 882.9,573.8 C888.7,573.4 895.7,575.4 902.1,576.2 C908.5,577.1 915.5,578.7 921.3,578.7 C927.1,578.7 931.8,577.1 937.1,576.2 C942.4,575.4 947.7,573.4 952.9,573.8 C958.1,574.2 963.3,576.2 968.5,578.7 C973.8,581.1 979.0,583.1 984.2,588.4 C989.4,593.6 994.6,600.1 999.9,610.2 C1005.1,620.4 1012.9,642.6 1015.5,649.1 "/></g>
<line x1="705.1" y1="466.7" x2="705.1" y2="649.1" stroke="#222" stroke-width="1.3"/>
<line x1="737.4" y1="466.7" x2="737.4" y2="649.1" stroke="#222" stroke-width="1.3"/>
<line x1="759.9" y1="466.7" x2="759.9" y2="649.1" stroke="#222" stroke-width="1.3"/>
<line x1="790.8" y1="466.7" x2="790.8" y2="649.1" stroke="#222" stroke-width="1.3"/>
<line x1="813.6" y1="466.7" x2="813.6" y2="649.1" stroke="#222" stroke-width="1.3"/>
<line x1="851.6" y1="466.7" x2="851.6" y2="649.1" stroke="#222" stroke-width="1.3"/>
<line x1="882.9" y1="466.7" x2="882.9" y2="649.1" stroke="#222" stroke-width="1.3"/>
<line x1="921.3" y1="466.7" x2="921.3" y2="649.1" stroke="#222" stroke-width="1.3"/>
<line x1="952.9" y1="466.7" x2="952.9" y2="649.1" stroke="#222" stroke-width="1.3"/>
<line x1="984.2" y1="466.7" x2="984.2" y2="649.1" stroke="#222" stroke-width="1.3"/>
<line x1="1015.5" y1="466.7" x2="1015.5" y2="649.1" stroke="#222" stroke-width="1.3"/>
<rect x="705.1" y="466.7" width="310.4" height="182.40000000000003" fill="none" stroke="#222" stroke-width="1.3"/>
<line x1="705.1" y1="649.1" x2="710.1" y2="649.1" stroke="#222" stroke-width="1.4"/>
<text x="703.6" y="653.6" font-family='"Liberation Serif", serif' font-size="12" fill="#222" text-anchor="end">0</text>
<line x1="705.1" y1="624.8" x2="710.1" y2="624.8" stroke="#222" stroke-width="1.4"/>
<text x="703.6" y="629.3" font-family='"Liberation Serif", serif' font-size="12" fill="#222" text-anchor="end">20</text>
<line x1="705.1" y1="600.5" x2="710.1" y2="600.5" stroke="#222" stroke-width="1.4"/>
<text x="703.6" y="605.0" font-family='"Liberation Serif", serif' font-size="12" fill="#222" text-anchor="end">40</text>
<line x1="705.1" y1="576.2" x2="710.1" y2="576.2" stroke="#222" stroke-width="1.4"/>
<text x="703.6" y="580.7" font-family='"Liberation Serif", serif' font-size="12" fill="#222" text-anchor="end">60</text>
<line x1="705.1" y1="552.0" x2="710.1" y2="552.0" stroke="#222" stroke-width="1.4"/>
<text x="703.6" y="556.5" font-family='"Liberation Serif", serif' font-size="12" fill="#222" text-anchor="end">80</text>
<line x1="705.1" y1="527.7" x2="710.1" y2="527.7" stroke="#222" stroke-width="1.4"/>
<text x="703.6" y="532.2" font-family='"Liberation Serif", serif' font-size="12" fill="#222" text-anchor="end">100</text>
<line x1="705.1" y1="503.4" x2="710.1" y2="503.4" stroke="#222" stroke-width="1.4"/>
<text x="703.6" y="507.9" font-family='"Liberation Serif", serif' font-size="12" fill="#222" text-anchor="end">120</text>
<line x1="705.1" y1="479.1" x2="710.1" y2="479.1" stroke="#222" stroke-width="1.4"/>
<text x="703.6" y="483.6" font-family='"Liberation Serif", serif' font-size="12" fill="#222" text-anchor="end">140</text>
<line x1="705.1" y1="637.0" x2="707.6" y2="637.0" stroke="#222" stroke-width="1"/>
<line x1="705.1" y1="612.7" x2="707.6" y2="612.7" stroke="#222" stroke-width="1"/>
<line x1="705.1" y1="588.4" x2="707.6" y2="588.4" stroke="#222" stroke-width="1"/>
<line x1="705.1" y1="564.1" x2="707.6" y2="564.1" stroke="#222" stroke-width="1"/>
<line x1="705.1" y1="539.8" x2="707.6" y2="539.8" stroke="#222" stroke-width="1"/>
<line x1="705.1" y1="515.5" x2="707.6" y2="515.5" stroke="#222" stroke-width="1"/>
<line x1="705.1" y1="491.2" x2="707.6" y2="491.2" stroke="#222" stroke-width="1"/>
<text x="705.1" y="660.5" font-family='"Liberation Serif", serif' font-size="13.5" fill="#222" text-anchor="middle">Γ</text>
<text x="737.4" y="660.5" font-family='"Liberation Serif", serif' font-size="13.5" fill="#222" text-anchor="middle">Z</text>
<text x="759.9" y="660.5" font-family='"Liberation Serif", serif' font-size="13.5" fill="#222" text-anchor="middle">D</text>
<text x="790.8" y="660.5" font-family='"Liberation Serif", serif' font-size="13.5" fill="#222" text-anchor="middle">B</text>
<text x="813.6" y="660.5" font-family='"Liberation Serif", serif' font-size="13.5" fill="#222" text-anchor="middle">Γ</text>
<text x="851.6" y="660.5" font-family='"Liberation Serif", serif' font-size="13.5" fill="#222" text-anchor="middle">A</text>
<text x="882.9" y="660.5" font-family='"Liberation Serif", serif' font-size="13.5" fill="#222" text-anchor="middle">E</text>
<text x="921.3" y="660.5" font-family='"Liberation Serif", serif' font-size="13.5" fill="#222" text-anchor="middle">Z</text>
<text x="955.9" y="660.5" font-family='"Liberation Serif", serif' font-size="13.5" fill="#222" text-anchor="middle">C<tspan font-size="9" dy="3">2</tspan></text>
<text x="987.2" y="660.5" font-family='"Liberation Serif", serif' font-size="13.5" fill="#222" text-anchor="middle">Y<tspan font-size="9" dy="3">2</tspan></text>
<text x="1015.5" y="660.5" font-family='"Liberation Serif", serif' font-size="13.5" fill="#222" text-anchor="middle">Γ</text>
<text transform="translate(680,551) rotate(-90)" font-family='"Liberation Serif", serif' font-size="11.8" fill="#222" text-anchor="middle">Frequency (cm<tspan font-size="7" dy="-4">-1</tspan><tspan dy="4">)</tspan></text>
<circle cx="718.5" cy="476.5" r="6.5" fill="#fff" opacity="0.85"/>
<text x="718.5" y="480.5" font-family='"Liberation Serif", serif' font-size="10.5" fill="#222" text-anchor="middle">(a)</text>
<rect x="815.3" y="593.3" width="20" height="11.7" fill="none" stroke="#555" stroke-width="0.9"/>
<rect x="996" y="593.3" width="19.5" height="11.7" fill="none" stroke="#555" stroke-width="0.9"/>
<text x="741" y="624" font-family='"Liberation Serif", serif' font-size="10" fill="#222" text-anchor="middle">1opt</text>
<text x="860.5" y="627" font-family='"Liberation Serif", serif' font-size="10" fill="#222" text-anchor="middle">ac</text>
<text x="903" y="630" font-family='"Liberation Serif", serif' font-size="9.5" fill="#222" text-anchor="middle">Mono1</text>
<text x="970" y="626" font-family='"Liberation Serif", serif' font-size="10" fill="#222" text-anchor="middle">ac</text>
<path d="M731,617 L711.5,598.6 M853.7,622.4 L836,605 M976.4,620.6 L996,603" stroke="#222" stroke-width="0.9" fill="none"/>
<path d="M711.5,598.6 L716.5,600.2 L713.6,603 Z M836,605 L841,606.8 L838,609.6 Z M996,603 L993.8,607.6 L991,604.8 Z" fill="#222"/>
<text x="872" y="683" font-family='"Liberation Sans", sans-serif' font-size="15.7" fill="#333" text-anchor="middle">Calculated phonon dispersion</text>
</svg>
</body></html>
